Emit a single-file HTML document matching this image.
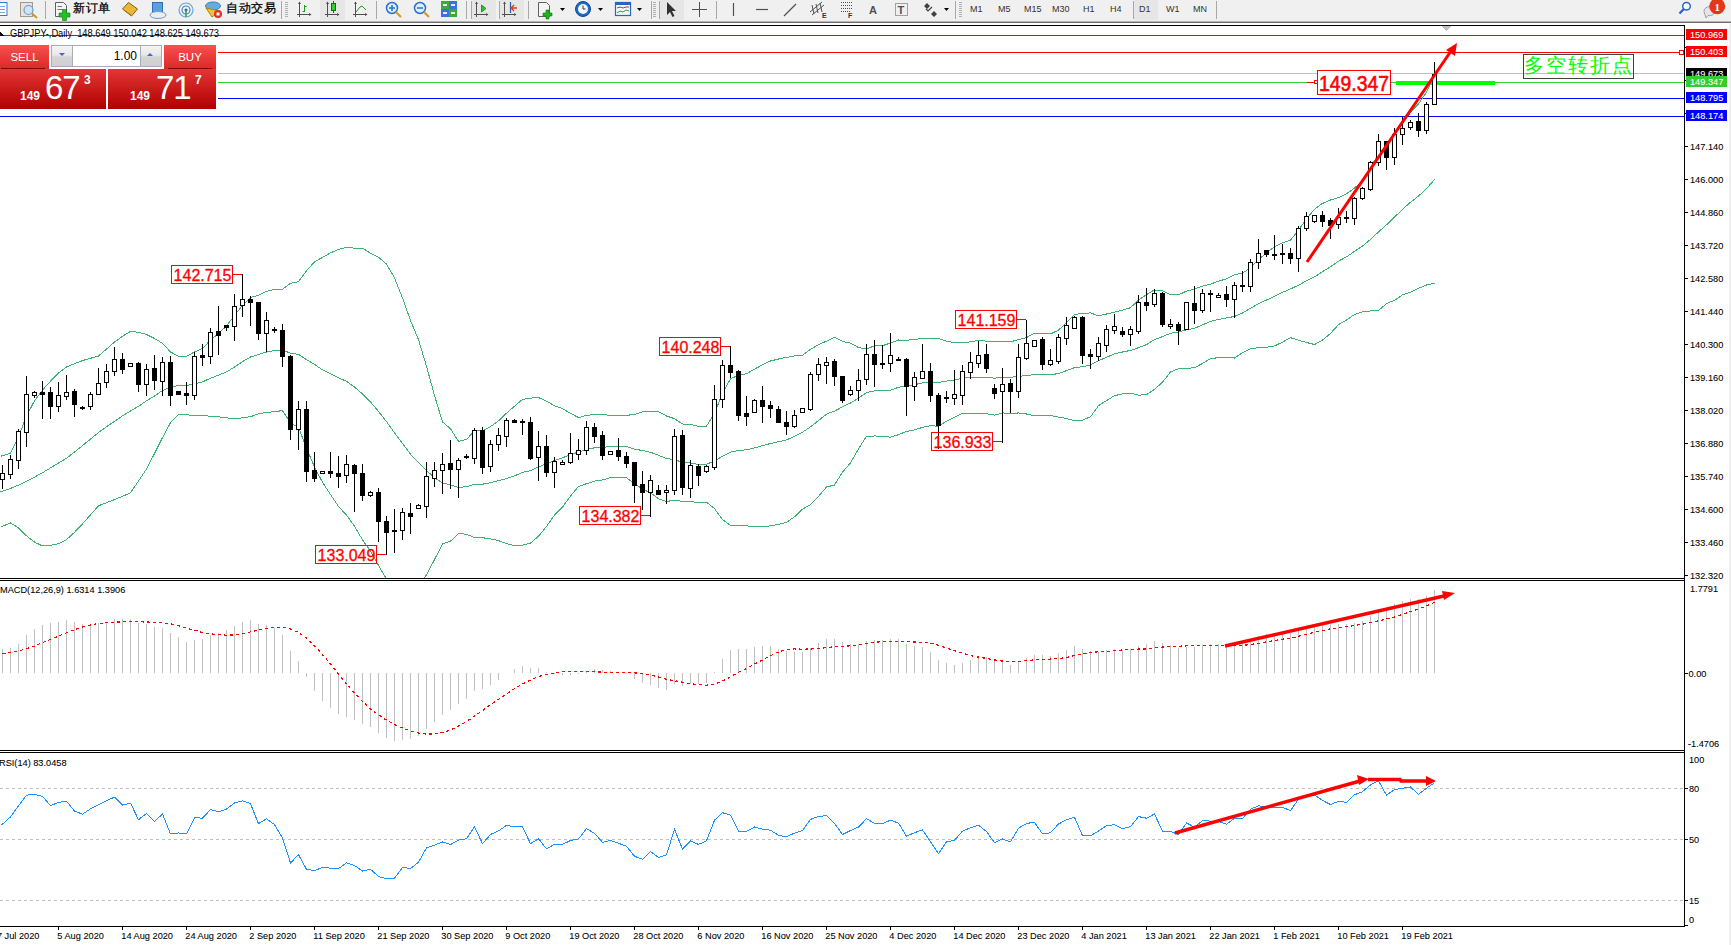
<!DOCTYPE html>
<html><head><meta charset="utf-8">
<style>
html,body{margin:0;padding:0;width:1731px;height:945px;overflow:hidden;background:#fff;font-family:"Liberation Sans",sans-serif;}
#tb{position:absolute;left:0;top:0;width:1731px;height:21px;background:#F0F0F0;}
#tbl{position:absolute;left:0;top:21px;width:1731px;height:1px;background:#B4B4B4;}
#tbl2{position:absolute;left:0;top:22px;width:1731px;height:1px;background:#6E6E6E;}
.sep{position:absolute;top:1px;width:1px;height:18px;background:#A8A8A8;}
.grip{position:absolute;top:2px;width:3px;height:16px;background:repeating-linear-gradient(#B0B0B0 0 1px,transparent 1px 2px);}
.tt{position:absolute;top:3px;font-size:9px;color:#333;line-height:12px;white-space:nowrap;}
.cn{position:absolute;top:1px;font-size:11.5px;color:#000;line-height:15px;white-space:nowrap;-webkit-text-stroke:0.25px #000;letter-spacing:0.6px;}
.pressed{position:absolute;top:0;height:20px;background:#E6E6E6;}
#rbar{position:absolute;left:1729px;top:23px;width:2px;height:922px;background:#F0F0F0;}
#panel{position:absolute;left:0;top:40px;width:218px;height:72px;background:#fff;}
.tab{position:absolute;top:45px;height:24px;background:linear-gradient(#F85050,#DC2828);color:#fff;font-size:11.5px;text-align:center;line-height:24px;}
.tabline{position:absolute;top:68px;height:1px;background:#8A0000;}
.big{position:absolute;top:69px;height:40px;background:linear-gradient(#E43636,#B00000);color:#fff;}
.vol{position:absolute;left:51px;top:45px;width:111px;height:22px;border:1px solid #A8ADB5;background:#fff;box-sizing:border-box;}
.vbtn{position:absolute;top:0;width:21px;height:20px;background:linear-gradient(#F4F4F4 0%,#E8E8E8 45%,#D4D4D4 55%,#D0D0D0 100%);box-sizing:border-box;}
</style></head><body>
<div id="tb">
<div class="pressed" style="left:320px;width:25px"></div>
<div class="pressed" style="left:472px;width:24px"></div>
<div class="pressed" style="left:500px;width:24px"></div>
<div class="pressed" style="left:660px;width:24px"></div>
<div class="pressed" style="left:1134px;width:24px"></div>
<svg width="1731" height="21" style="position:absolute;left:0;top:0">
 <!-- partial doc icon -->
 <rect x="-3" y="2.5" width="10" height="13" fill="#fff" stroke="#3A7BC8"/>
 <line x1="-1" y1="6.5" x2="5" y2="6.5" stroke="#7AA6DC"/><line x1="-1" y1="9.5" x2="5" y2="9.5" stroke="#7AA6DC"/><line x1="-1" y1="12.5" x2="5" y2="12.5" stroke="#7AA6DC"/>
 <!-- magnifier doc -->
 <rect x="20.5" y="2.5" width="12" height="14" fill="#E8E4DC" stroke="#A09888"/>
 <circle cx="28.5" cy="10" r="4.5" fill="#CFE3F5" stroke="#6A9BD0" stroke-width="1.2"/>
 <line x1="32" y1="13.5" x2="37" y2="18" stroke="#C89A20" stroke-width="2"/>
 <!-- new order -->
 <path d="M55.5 2.5 h8 l3 3 v11 h-11z" fill="#F4F4F4" stroke="#606060"/>
 <line x1="57.5" y1="6.5" x2="62" y2="6.5" stroke="#777"/><line x1="57.5" y1="9.5" x2="63" y2="9.5" stroke="#777"/>
 <path d="M62.5 9.5 h4 v3.5 h3.5 v4 h-3.5 v3.5 h-4 v-3.5 h-3.5 v-4 h3.5z" fill="#22C022" stroke="#0A7A0A" stroke-width=".6"/>
 <!-- yellow tag -->
 <path d="M122.5 9 l6 -6.5 l9 6.5 l-6 7z" fill="#E8B838" stroke="#8A5A10"/><path d="M124 10 l7 5" stroke="#B07818"/>
 <!-- blue doc cloud -->
 <rect x="152.5" y="2.5" width="10" height="11" fill="#5AA0E0" stroke="#2A70B8"/>
 <ellipse cx="158" cy="15" rx="8" ry="3.5" fill="#E6EEF6" stroke="#7A96B8"/>
 <!-- signal -->
 <circle cx="186" cy="10" r="7" fill="none" stroke="#6AA6D8" stroke-width="1.2"/>
 <circle cx="186" cy="10" r="4" fill="none" stroke="#4A86C8" stroke-width="1.2"/>
 <circle cx="186" cy="10" r="1.5" fill="#2A60B0"/>
 <path d="M186 10 v7" stroke="#2EA040" stroke-width="1.5"/>
 <!-- auto trade -->
 <ellipse cx="213" cy="6" rx="7.5" ry="4" fill="#62AEE0" stroke="#3A80B8"/>
 <path d="M206 8 l6 9 l8 -6z" fill="#F0C040" stroke="#B08010"/>
 <circle cx="218" cy="14" r="4" fill="#E03020"/><rect x="216.5" y="12.5" width="3" height="3" fill="#fff"/>
 <!-- chart types -->
<path d="M299.5 2 v15 M297 14.5 h14" stroke="#505050" fill="none"/><path d="M298 4 l1.5 -2.5 l1.5 2.5z M309 13 l2.5 1.5 l-2.5 1.5z" fill="#505050"/><path d="M327.5 2 v15 M325 14.5 h14" stroke="#505050" fill="none"/><path d="M326 4 l1.5 -2.5 l1.5 2.5z M337 13 l2.5 1.5 l-2.5 1.5z" fill="#505050"/><path d="M355.5 2 v15 M353 14.5 h14" stroke="#505050" fill="none"/><path d="M354 4 l1.5 -2.5 l1.5 2.5z M365 13 l2.5 1.5 l-2.5 1.5z" fill="#505050"/>
 <path d="M304.5 5 v7 M302.5 11.5 h2 M304.5 6.5 h2" stroke="#18A018" fill="none"/>
 <line x1="333.5" y1="1" x2="333.5" y2="13" stroke="#107010"/><rect x="331.5" y="3.5" width="4" height="7" fill="#30D030" stroke="#107010"/>
 <path d="M356 12 l4 -5 l2 -1 l2 2 l2 2" stroke="#18A018" fill="none"/>
 <!-- zoom -->
 <circle cx="392" cy="8" r="5.5" fill="#DDEEFF" stroke="#2870C8" stroke-width="1.5"/>
 <path d="M389 8 h6 M392 5 v6" stroke="#2870C8" stroke-width="1.5"/>
 <line x1="396" y1="12" x2="401" y2="17" stroke="#D0A020" stroke-width="2.2"/>
 <circle cx="420" cy="8" r="5.5" fill="#DDEEFF" stroke="#2870C8" stroke-width="1.5"/>
 <path d="M417 8 h6" stroke="#2870C8" stroke-width="1.5"/>
 <line x1="424" y1="12" x2="429" y2="17" stroke="#D0A020" stroke-width="2.2"/>
 <!-- tile -->
 <rect x="441.5" y="1.5" width="7" height="7" fill="#3EA83E" stroke="#3EA83E"/><rect x="443" y="4" width="4" height="2" fill="#fff" opacity=".85"/>
 <rect x="449.5" y="1.5" width="7" height="7" fill="#3A74D0" stroke="#3A74D0"/><rect x="451" y="4" width="4" height="2" fill="#fff" opacity=".85"/>
 <rect x="441.5" y="9.5" width="7" height="7" fill="#3A74D0" stroke="#3A74D0"/><rect x="443" y="12" width="4" height="2" fill="#fff" opacity=".85"/>
 <rect x="449.5" y="9.5" width="7" height="7" fill="#3EA83E" stroke="#3EA83E"/><rect x="451" y="12" width="4" height="2" fill="#fff" opacity=".85"/>
</svg>
<div class="sep" style="left:45px"></div>
<div class="cn" style="left:73px">新订单</div>
<div class="cn" style="left:226px">自动交易</div>
<div class="sep" style="left:281px"></div><div class="grip" style="left:285px"></div>

<div class="sep" style="left:376px"></div>
<div class="sep" style="left:466px"></div><div class="sep" style="left:471px"></div>

<div class="sep" style="left:499px"></div>

<div class="sep" style="left:528px"></div>
<div class="sep" style="left:651px"></div><div class="grip" style="left:653px"></div>
<div class="sep" style="left:659px"></div>

<div class="sep" style="left:716px"></div>
<div class="sep" style="left:955px"></div><div class="grip" style="left:959px"></div>
<div class="sep" style="left:1133px"></div>

<div class="sep" style="left:1216px"></div>
<svg width="1731" height="21" style="position:absolute;left:0;top:0">
 <g stroke="#505050" fill="none">

 </g>
<path d="M476.5 2 v15 M474 14.5 h14" stroke="#505050" fill="none"/><path d="M475 4 l1.5 -2.5 l1.5 2.5z M486 13 l2.5 1.5 l-2.5 1.5z" fill="#505050"/><path d="M504.5 2 v15 M502 14.5 h14" stroke="#505050" fill="none"/><path d="M503 4 l1.5 -2.5 l1.5 2.5z M514 13 l2.5 1.5 l-2.5 1.5z" fill="#505050"/> <path d="M481.5 5 l4.5 3.5 l-4.5 3.5z" fill="#30C030" stroke="#108010" stroke-width=".8"/>
 <line x1="510.5" y1="2" x2="510.5" y2="13" stroke="#2060C0" stroke-width="1.2"/>
 <path d="M517 8 l-5 0 M514 5 l-3 3 l3 3" stroke="#E04010" fill="none" stroke-width="1.4"/>
 <!-- indicators -->
 <path d="M538.5 2.5 h8 l3 3 v11 h-11z" fill="#F4F4F4" stroke="#606060"/>
 <path d="M546 10 h3 v3 h3 v3 h-3 v3 h-3 v-3 h-3 v-3 h3z" fill="#1EB41E" stroke="#0A7A0A" stroke-width=".6"/>
 <path d="M560 8 h5 l-2.5 3z" fill="#000"/>
 <circle cx="583" cy="9" r="7.5" fill="#1A6CC8" stroke="#0A4A98"/><circle cx="583" cy="9" r="5" fill="#F4F8FC"/>
 <path d="M583 5.5 v3.5 h2.5" stroke="#333" fill="none"/>
 <path d="M598 8 h5 l-2.5 3z" fill="#000"/>
 <rect x="615.5" y="2.5" width="15" height="13" fill="#F4F8FC" stroke="#2A66B8" stroke-width="1.2"/>
 <rect x="615.5" y="2.5" width="15" height="2.5" fill="#2A66B8"/>
 <path d="M617 8 l3 -1 l3 1 l3 -1 l3 0" stroke="#C03030" fill="none"/>
 <path d="M617 13 l3 -2 l3 1 l3 -2 l3 1" stroke="#30A030" fill="none"/>
 <path d="M637 8 h5 l-2.5 3z" fill="#000"/>
 <!-- cursor -->
 <path d="M667 2 v13 l3 -3 l2.5 5 l2 -1 l-2.5 -5 h4z" fill="#303030"/>
 <path d="M699.5 2 v15 M692 9.5 h15" stroke="#505050"/>
 <path d="M733.5 3 v13" stroke="#505050" stroke-width="1.2"/>
 <path d="M756 9.5 h12" stroke="#505050" stroke-width="1.2"/>
 <path d="M784 16 l12 -12" stroke="#505050" stroke-width="1.2"/>
 <path d="M810 12 l12 -10 M812 15 l12 -10 M812 5 l2 9 M816 4 l2 9 M820 3 l2 9" stroke="#505050" fill="none"/>
 <text x="822" y="18" font-size="7" font-weight="bold" fill="#333" font-family="Liberation Sans">E</text>
 <path d="M841 2.5 h12 M841 5.5 h12 M841 8.5 h12 M841 11.5 h9" stroke="#505050" stroke-dasharray="1 1"/>
 <text x="848" y="18" font-size="7" font-weight="bold" fill="#333" font-family="Liberation Sans">F</text>
 <text x="869" y="14" font-size="11" font-weight="bold" fill="#505050" font-family="Liberation Sans">A</text>
 <rect x="895.5" y="3.5" width="12" height="12" fill="none" stroke="#505050" stroke-dasharray="1 1"/>
 <text x="897.5" y="13.5" font-size="11" font-weight="bold" fill="#505050" font-family="Liberation Sans">T</text>
 <path d="M924 6 l3 -3 l3 3 l-3 3z M931 14 l3 -3 l3 3 l-3 3z" fill="#404040"/>
 <path d="M926 9 l2 2 l4 -4" stroke="#404040" fill="none" stroke-width="1.2"/>
 <path d="M944 8 h5 l-2.5 3z" fill="#000"/>
 <!-- right icons -->
 <circle cx="1686.5" cy="6.3" r="3.8" fill="#fff" stroke="#2A66D0" stroke-width="1.5"/>
 <line x1="1683.8" y1="9" x2="1679.5" y2="13.5" stroke="#2A5EC8" stroke-width="2.2"/>
 <path d="M1704 11.5 a5.5 4.5 0 1 1 4 4 l-2 2.5z" fill="#E4E4EE" stroke="#A0A0A0"/>
 <circle cx="1717.2" cy="6.3" r="8" fill="#E03818"/>
 <text x="1717.2" y="11" font-size="11" font-weight="bold" fill="#fff" text-anchor="middle" font-family="Liberation Serif">1</text>
</svg>
<div class="tt" style="left:970px">M1</div>
<div class="tt" style="left:998px">M5</div>
<div class="tt" style="left:1024px">M15</div>
<div class="tt" style="left:1052px">M30</div>
<div class="tt" style="left:1083px">H1</div>
<div class="tt" style="left:1110px">H4</div>
<div class="tt" style="left:1139px">D1</div>
<div class="tt" style="left:1166px">W1</div>
<div class="tt" style="left:1193px">MN</div>
</div>
<div id="tbl"></div><div id="tbl2"></div>
<svg width="1731" height="922" viewBox="0 23 1731 922" style="position:absolute;left:0;top:23px"><defs><clipPath id="mc"><rect x="0" y="26" width="1684" height="552"/></clipPath></defs><g shape-rendering="crispEdges"><rect x="0" y="35" width="1684" height="1" fill="#FF0000"/><rect x="217" y="52" width="1467" height="1" fill="#FF0000"/><rect x="217" y="73" width="1467" height="1" fill="#C0C0C0"/><rect x="217" y="82" width="1467" height="1" fill="#32CD32"/><rect x="217" y="98" width="1467" height="1" fill="#0000FF"/><rect x="0" y="116" width="1684" height="1" fill="#0000FF"/><rect x="1396" y="81" width="99" height="4" fill="#00FF00"/><path d="M0.5,456.3 L10.5,453.3 L18.5,436.8 L26.5,416.0 L34.5,400.8 L42.5,390.1 L50.5,381.2 L58.5,372.9 L66.5,367.0 L74.5,363.7 L82.5,360.6 L90.5,358.3 L98.5,356.0 L106.5,349.1 L114.5,342.1 L122.5,336.3 L130.5,331.3 L138.5,332.4 L146.5,334.5 L154.5,338.5 L162.5,343.3 L170.5,352.0 L178.5,356.2 L186.5,356.2 L194.5,352.0 L202.5,348.5 L210.5,340.1 L218.5,333.5 L226.5,326.0 L234.5,315.4 L242.5,305.4 L250.5,297.4 L258.5,295.3 L266.5,291.4 L274.5,289.3 L282.5,289.2 L290.5,283.4 L298.5,281.7 L306.5,270.8 L314.5,261.9 L322.5,257.4 L330.5,252.9 L338.5,249.3 L346.5,247.5 L354.5,248.1 L362.5,248.1 L370.5,253.2 L378.5,257.2 L386.5,264.1 L394.5,277.8 L402.5,297.8 L410.5,320.5 L418.5,339.6 L426.5,366.3 L434.5,395.5 L442.5,422.0 L450.5,428.7 L458.5,441.4 L466.5,439.3 L474.5,431.1 L482.5,430.7 L490.5,426.6 L498.5,420.8 L506.5,413.2 L514.5,406.2 L522.5,399.5 L530.5,398.1 L538.5,397.6 L546.5,401.2 L554.5,405.7 L562.5,408.6 L570.5,413.3 L578.5,417.6 L586.5,415.4 L594.5,414.5 L602.5,414.7 L610.5,415.3 L618.5,415.4 L626.5,415.2 L634.5,414.7 L642.5,411.8 L650.5,411.7 L658.5,411.7 L666.5,416.0 L674.5,418.7 L682.5,424.0 L690.5,424.4 L698.5,426.3 L706.5,426.1 L714.5,413.5 L722.5,392.9 L730.5,378.8 L738.5,375.2 L746.5,373.8 L754.5,369.2 L762.5,364.7 L770.5,361.0 L778.5,359.0 L786.5,357.4 L794.5,356.0 L802.5,355.3 L810.5,349.3 L818.5,344.6 L826.5,341.1 L834.5,337.1 L842.5,341.4 L850.5,343.1 L858.5,347.6 L866.5,349.1 L874.5,345.8 L882.5,345.7 L890.5,343.0 L898.5,340.0 L906.5,340.3 L914.5,339.5 L922.5,338.4 L930.5,338.9 L938.5,338.5 L946.5,341.1 L954.5,342.6 L962.5,343.0 L970.5,341.7 L978.5,340.4 L986.5,341.1 L994.5,341.3 L1002.5,341.8 L1010.5,341.8 L1018.5,339.7 L1026.5,337.5 L1034.5,333.3 L1042.5,333.3 L1050.5,334.0 L1058.5,330.1 L1066.5,322.7 L1074.5,314.5 L1082.5,313.4 L1090.5,312.9 L1098.5,315.9 L1106.5,314.0 L1114.5,312.1 L1122.5,310.2 L1130.5,307.7 L1138.5,300.2 L1146.5,294.6 L1154.5,289.9 L1162.5,290.9 L1170.5,294.7 L1178.5,294.9 L1186.5,291.1 L1194.5,289.0 L1202.5,286.1 L1210.5,284.2 L1218.5,281.1 L1226.5,278.9 L1234.5,274.7 L1242.5,273.2 L1250.5,267.8 L1258.5,259.8 L1266.5,252.7 L1274.5,246.9 L1282.5,242.8 L1290.5,240.0 L1298.5,230.2 L1306.5,219.0 L1314.5,209.2 L1322.5,203.4 L1330.5,200.0 L1338.5,197.7 L1346.5,193.8 L1354.5,188.2 L1362.5,180.4 L1370.5,168.1 L1378.5,153.2 L1386.5,145.9 L1394.5,134.1 L1402.5,123.7 L1410.5,112.3 L1418.5,104.0 L1426.5,92.2 L1434.5,75.9" fill="none" stroke="#3CB371" stroke-width="1" clip-path="url(#mc)"/><path d="M0.5,491.8 L10.5,488.4 L18.5,485.1 L26.5,481.1 L34.5,477.1 L42.5,472.7 L50.5,467.9 L58.5,463.0 L66.5,458.2 L74.5,452.1 L82.5,445.6 L90.5,439.1 L98.5,432.6 L106.5,426.7 L114.5,421.3 L122.5,415.9 L130.5,411.1 L138.5,406.3 L146.5,400.8 L154.5,396.0 L162.5,390.5 L170.5,387.3 L178.5,385.4 L186.5,385.5 L194.5,383.7 L202.5,381.9 L210.5,378.2 L218.5,375.2 L226.5,371.9 L234.5,367.1 L242.5,361.6 L250.5,357.0 L258.5,354.5 L266.5,352.0 L274.5,350.5 L282.5,349.9 L290.5,353.2 L298.5,354.4 L306.5,359.6 L314.5,364.4 L322.5,369.9 L330.5,373.8 L338.5,377.9 L346.5,381.3 L354.5,387.1 L362.5,394.0 L370.5,402.0 L378.5,411.4 L386.5,421.6 L394.5,432.8 L402.5,443.5 L410.5,454.2 L418.5,462.7 L426.5,470.6 L434.5,477.6 L442.5,482.9 L450.5,484.9 L458.5,487.5 L466.5,486.7 L474.5,484.4 L482.5,484.2 L490.5,482.7 L498.5,480.7 L506.5,478.5 L514.5,475.9 L522.5,472.3 L530.5,470.6 L538.5,466.9 L546.5,463.8 L554.5,460.4 L562.5,457.8 L570.5,454.7 L578.5,452.0 L586.5,449.5 L594.5,447.8 L602.5,447.4 L610.5,446.4 L618.5,446.2 L626.5,446.5 L634.5,449.2 L642.5,450.5 L650.5,452.3 L658.5,455.2 L666.5,458.7 L674.5,459.4 L682.5,462.6 L690.5,463.0 L698.5,464.4 L706.5,464.2 L714.5,461.1 L722.5,456.2 L730.5,452.1 L738.5,450.4 L746.5,449.8 L754.5,448.0 L762.5,445.6 L770.5,443.5 L778.5,441.7 L786.5,439.9 L794.5,436.4 L802.5,432.2 L810.5,426.9 L818.5,420.5 L826.5,414.1 L834.5,411.1 L842.5,406.8 L850.5,403.0 L858.5,398.2 L866.5,392.6 L874.5,390.9 L882.5,390.9 L890.5,390.1 L898.5,387.3 L906.5,385.8 L914.5,384.7 L922.5,382.9 L930.5,382.3 L938.5,382.4 L946.5,381.1 L954.5,380.0 L962.5,378.2 L970.5,377.6 L978.5,377.1 L986.5,377.4 L994.5,378.2 L1002.5,377.4 L1010.5,377.4 L1018.5,376.3 L1026.5,375.7 L1034.5,374.5 L1042.5,374.5 L1050.5,374.7 L1058.5,373.6 L1066.5,370.6 L1074.5,367.6 L1082.5,366.8 L1090.5,364.8 L1098.5,360.8 L1106.5,357.3 L1114.5,353.9 L1122.5,352.0 L1130.5,350.4 L1138.5,347.7 L1146.5,344.6 L1154.5,339.6 L1162.5,336.6 L1170.5,333.3 L1178.5,331.9 L1186.5,329.8 L1194.5,328.3 L1202.5,324.8 L1210.5,321.5 L1218.5,319.4 L1226.5,318.0 L1234.5,316.4 L1242.5,313.0 L1250.5,308.3 L1258.5,303.8 L1266.5,300.0 L1274.5,296.4 L1282.5,292.4 L1290.5,288.9 L1298.5,285.2 L1306.5,280.8 L1314.5,276.9 L1322.5,271.7 L1330.5,266.8 L1338.5,261.1 L1346.5,256.9 L1354.5,251.4 L1362.5,246.1 L1370.5,239.5 L1378.5,231.9 L1386.5,224.8 L1394.5,217.2 L1402.5,209.3 L1410.5,202.3 L1418.5,196.1 L1426.5,188.6 L1434.5,179.5" fill="none" stroke="#3CB371" stroke-width="1" clip-path="url(#mc)"/><path d="M0.5,527.1 L10.5,523.0 L18.5,527.8 L26.5,535.8 L34.5,542.1 L42.5,546.0 L50.5,545.2 L58.5,543.8 L66.5,539.6 L74.5,532.3 L82.5,523.9 L90.5,514.8 L98.5,505.8 L106.5,502.7 L114.5,499.6 L122.5,496.3 L130.5,492.8 L138.5,481.1 L146.5,468.9 L154.5,453.6 L162.5,437.6 L170.5,422.6 L178.5,414.6 L186.5,414.8 L194.5,415.4 L202.5,415.3 L210.5,416.3 L218.5,416.8 L226.5,417.8 L234.5,418.7 L242.5,417.8 L250.5,416.7 L258.5,413.8 L266.5,412.5 L274.5,411.7 L282.5,410.6 L290.5,423.0 L298.5,427.2 L306.5,448.4 L314.5,467.0 L322.5,482.3 L330.5,494.6 L338.5,506.4 L346.5,515.1 L354.5,526.2 L362.5,539.9 L370.5,550.9 L378.5,565.5 L386.5,579.1 L394.5,587.9 L402.5,589.2 L410.5,587.8 L418.5,585.9 L426.5,574.9 L434.5,559.6 L442.5,543.9 L450.5,541.2 L458.5,533.5 L466.5,534.2 L474.5,537.7 L482.5,537.7 L490.5,538.9 L498.5,540.6 L506.5,543.7 L514.5,545.6 L522.5,545.1 L530.5,543.1 L538.5,536.2 L546.5,526.5 L554.5,515.0 L562.5,507.1 L570.5,496.1 L578.5,486.4 L586.5,483.7 L594.5,481.1 L602.5,480.0 L610.5,477.5 L618.5,477.1 L626.5,477.8 L634.5,483.7 L642.5,489.1 L650.5,492.8 L658.5,498.7 L666.5,501.5 L674.5,500.2 L682.5,501.3 L690.5,501.6 L698.5,502.6 L706.5,502.2 L714.5,508.6 L722.5,519.6 L730.5,525.5 L738.5,525.5 L746.5,525.8 L754.5,526.9 L762.5,526.4 L770.5,525.9 L778.5,524.4 L786.5,522.3 L794.5,516.8 L802.5,509.1 L810.5,504.6 L818.5,496.3 L826.5,487.0 L834.5,485.0 L842.5,472.1 L850.5,462.8 L858.5,448.8 L866.5,436.2 L874.5,436.0 L882.5,436.1 L890.5,437.2 L898.5,434.7 L906.5,431.4 L914.5,429.9 L922.5,427.4 L930.5,425.6 L938.5,426.3 L946.5,421.1 L954.5,417.4 L962.5,413.3 L970.5,413.4 L978.5,413.8 L986.5,413.7 L994.5,415.1 L1002.5,413.0 L1010.5,413.1 L1018.5,413.0 L1026.5,414.0 L1034.5,415.7 L1042.5,415.7 L1050.5,415.5 L1058.5,417.1 L1066.5,418.5 L1074.5,420.7 L1082.5,420.1 L1090.5,416.8 L1098.5,405.6 L1106.5,400.6 L1114.5,395.7 L1122.5,393.9 L1130.5,393.1 L1138.5,395.2 L1146.5,394.6 L1154.5,389.3 L1162.5,382.3 L1170.5,371.8 L1178.5,368.8 L1186.5,368.5 L1194.5,367.7 L1202.5,363.5 L1210.5,358.7 L1218.5,357.6 L1226.5,357.2 L1234.5,358.1 L1242.5,352.7 L1250.5,348.8 L1258.5,347.7 L1266.5,347.3 L1274.5,346.0 L1282.5,342.1 L1290.5,337.7 L1298.5,340.2 L1306.5,342.5 L1314.5,344.5 L1322.5,340.0 L1330.5,333.5 L1338.5,324.6 L1346.5,320.0 L1354.5,314.5 L1362.5,311.9 L1370.5,310.9 L1378.5,310.5 L1386.5,303.6 L1394.5,300.3 L1402.5,294.9 L1410.5,292.3 L1418.5,288.3 L1426.5,285.0 L1434.5,283.2" fill="none" stroke="#3CB371" stroke-width="1" clip-path="url(#mc)"/><rect x="2" y="465" width="1" height="24" fill="#000"/><rect x="0" y="473" width="5" height="7" fill="#000"/><rect x="1" y="474" width="3" height="5" fill="#FFF"/><rect x="10" y="455" width="1" height="24" fill="#000"/><rect x="8" y="459" width="5" height="16" fill="#000"/><rect x="9" y="460" width="3" height="14" fill="#FFF"/><rect x="18" y="429" width="1" height="40" fill="#000"/><rect x="16" y="431" width="5" height="30" fill="#000"/><rect x="17" y="432" width="3" height="28" fill="#FFF"/><rect x="26" y="376" width="1" height="71" fill="#000"/><rect x="24" y="394" width="5" height="39" fill="#000"/><rect x="25" y="395" width="3" height="37" fill="#FFF"/><rect x="34" y="391" width="1" height="7" fill="#000"/><rect x="32" y="392" width="5" height="4" fill="#000"/><rect x="33" y="393" width="3" height="2" fill="#FFF"/><rect x="42" y="381" width="1" height="38" fill="#000"/><rect x="40" y="392" width="5" height="3" fill="#000"/><rect x="50" y="387" width="1" height="32" fill="#000"/><rect x="48" y="392" width="5" height="15" fill="#000"/><rect x="58" y="382" width="1" height="30" fill="#000"/><rect x="56" y="395" width="5" height="12" fill="#000"/><rect x="57" y="396" width="3" height="10" fill="#FFF"/><rect x="66" y="375" width="1" height="25" fill="#000"/><rect x="64" y="392" width="5" height="5" fill="#000"/><rect x="65" y="393" width="3" height="3" fill="#FFF"/><rect x="74" y="389" width="1" height="28" fill="#000"/><rect x="72" y="391" width="5" height="14" fill="#000"/><rect x="82" y="406" width="1" height="4" fill="#000"/><rect x="80" y="407" width="5" height="2" fill="#000"/><rect x="90" y="392" width="1" height="18" fill="#000"/><rect x="88" y="394" width="5" height="13" fill="#000"/><rect x="89" y="395" width="3" height="11" fill="#FFF"/><rect x="98" y="368" width="1" height="27" fill="#000"/><rect x="96" y="383" width="5" height="12" fill="#000"/><rect x="97" y="384" width="3" height="10" fill="#FFF"/><rect x="106" y="364" width="1" height="24" fill="#000"/><rect x="104" y="371" width="5" height="12" fill="#000"/><rect x="105" y="372" width="3" height="10" fill="#FFF"/><rect x="114" y="347" width="1" height="29" fill="#000"/><rect x="112" y="359" width="5" height="13" fill="#000"/><rect x="113" y="360" width="3" height="11" fill="#FFF"/><rect x="122" y="353" width="1" height="21" fill="#000"/><rect x="120" y="359" width="5" height="11" fill="#000"/><rect x="130" y="363" width="1" height="4" fill="#000"/><rect x="128" y="363" width="5" height="4" fill="#000"/><rect x="129" y="364" width="3" height="2" fill="#FFF"/><rect x="138" y="362" width="1" height="30" fill="#000"/><rect x="136" y="363" width="5" height="22" fill="#000"/><rect x="146" y="364" width="1" height="32" fill="#000"/><rect x="144" y="369" width="5" height="16" fill="#000"/><rect x="145" y="370" width="3" height="14" fill="#FFF"/><rect x="154" y="355" width="1" height="35" fill="#000"/><rect x="152" y="368" width="5" height="13" fill="#000"/><rect x="162" y="357" width="1" height="39" fill="#000"/><rect x="160" y="362" width="5" height="20" fill="#000"/><rect x="161" y="363" width="3" height="18" fill="#FFF"/><rect x="170" y="356" width="1" height="50" fill="#000"/><rect x="168" y="362" width="5" height="34" fill="#000"/><rect x="178" y="391" width="1" height="4" fill="#000"/><rect x="176" y="391" width="5" height="4" fill="#000"/><rect x="186" y="382" width="1" height="23" fill="#000"/><rect x="184" y="393" width="5" height="3" fill="#000"/><rect x="194" y="352" width="1" height="48" fill="#000"/><rect x="192" y="356" width="5" height="40" fill="#000"/><rect x="193" y="357" width="3" height="38" fill="#FFF"/><rect x="202" y="344" width="1" height="22" fill="#000"/><rect x="200" y="355" width="5" height="3" fill="#000"/><rect x="210" y="328" width="1" height="36" fill="#000"/><rect x="208" y="332" width="5" height="25" fill="#000"/><rect x="209" y="333" width="3" height="23" fill="#FFF"/><rect x="218" y="306" width="1" height="49" fill="#000"/><rect x="216" y="331" width="5" height="5" fill="#000"/><rect x="226" y="325" width="1" height="6" fill="#000"/><rect x="224" y="325" width="5" height="3" fill="#000"/><rect x="234" y="294" width="1" height="47" fill="#000"/><rect x="232" y="306" width="5" height="21" fill="#000"/><rect x="233" y="307" width="3" height="19" fill="#FFF"/><rect x="242" y="274" width="1" height="43" fill="#000"/><rect x="240" y="299" width="5" height="7" fill="#000"/><rect x="241" y="300" width="3" height="5" fill="#FFF"/><rect x="250" y="296" width="1" height="30" fill="#000"/><rect x="248" y="299" width="5" height="4" fill="#000"/><rect x="258" y="302" width="1" height="38" fill="#000"/><rect x="256" y="302" width="5" height="32" fill="#000"/><rect x="266" y="312" width="1" height="40" fill="#000"/><rect x="264" y="320" width="5" height="14" fill="#000"/><rect x="265" y="321" width="3" height="12" fill="#FFF"/><rect x="274" y="327" width="1" height="6" fill="#000"/><rect x="272" y="329" width="5" height="2" fill="#000"/><rect x="282" y="324" width="1" height="43" fill="#000"/><rect x="280" y="330" width="5" height="27" fill="#000"/><rect x="290" y="355" width="1" height="85" fill="#000"/><rect x="288" y="356" width="5" height="74" fill="#000"/><rect x="298" y="401" width="1" height="49" fill="#000"/><rect x="296" y="409" width="5" height="21" fill="#000"/><rect x="297" y="410" width="3" height="19" fill="#FFF"/><rect x="306" y="401" width="1" height="81" fill="#000"/><rect x="304" y="409" width="5" height="63" fill="#000"/><rect x="314" y="452" width="1" height="30" fill="#000"/><rect x="312" y="470" width="5" height="9" fill="#000"/><rect x="322" y="471" width="1" height="3" fill="#000"/><rect x="320" y="471" width="5" height="3" fill="#000"/><rect x="321" y="472" width="3" height="1" fill="#FFF"/><rect x="330" y="452" width="1" height="26" fill="#000"/><rect x="328" y="471" width="5" height="3" fill="#000"/><rect x="338" y="456" width="1" height="32" fill="#000"/><rect x="336" y="473" width="5" height="4" fill="#000"/><rect x="346" y="455" width="1" height="28" fill="#000"/><rect x="344" y="464" width="5" height="12" fill="#000"/><rect x="345" y="465" width="3" height="10" fill="#FFF"/><rect x="354" y="464" width="1" height="48" fill="#000"/><rect x="352" y="465" width="5" height="9" fill="#000"/><rect x="362" y="464" width="1" height="37" fill="#000"/><rect x="360" y="473" width="5" height="23" fill="#000"/><rect x="370" y="491" width="1" height="6" fill="#000"/><rect x="368" y="492" width="5" height="4" fill="#000"/><rect x="369" y="493" width="3" height="2" fill="#FFF"/><rect x="378" y="488" width="1" height="54" fill="#000"/><rect x="376" y="492" width="5" height="30" fill="#000"/><rect x="386" y="516" width="1" height="39" fill="#000"/><rect x="384" y="521" width="5" height="12" fill="#000"/><rect x="394" y="509" width="1" height="44" fill="#000"/><rect x="392" y="530" width="5" height="2" fill="#000"/><rect x="402" y="508" width="1" height="32" fill="#000"/><rect x="400" y="512" width="5" height="19" fill="#000"/><rect x="401" y="513" width="3" height="17" fill="#FFF"/><rect x="410" y="503" width="1" height="31" fill="#000"/><rect x="408" y="513" width="5" height="4" fill="#000"/><rect x="418" y="504" width="1" height="5" fill="#000"/><rect x="416" y="505" width="5" height="4" fill="#000"/><rect x="417" y="506" width="3" height="2" fill="#FFF"/><rect x="426" y="462" width="1" height="56" fill="#000"/><rect x="424" y="476" width="5" height="31" fill="#000"/><rect x="425" y="477" width="3" height="29" fill="#FFF"/><rect x="434" y="462" width="1" height="25" fill="#000"/><rect x="432" y="470" width="5" height="9" fill="#000"/><rect x="433" y="471" width="3" height="7" fill="#FFF"/><rect x="442" y="453" width="1" height="41" fill="#000"/><rect x="440" y="464" width="5" height="7" fill="#000"/><rect x="441" y="465" width="3" height="5" fill="#FFF"/><rect x="450" y="440" width="1" height="49" fill="#000"/><rect x="448" y="463" width="5" height="7" fill="#000"/><rect x="458" y="458" width="1" height="40" fill="#000"/><rect x="456" y="460" width="5" height="10" fill="#000"/><rect x="457" y="461" width="3" height="8" fill="#FFF"/><rect x="466" y="454" width="1" height="5" fill="#000"/><rect x="464" y="456" width="5" height="2" fill="#000"/><rect x="474" y="428" width="1" height="36" fill="#000"/><rect x="472" y="430" width="5" height="29" fill="#000"/><rect x="473" y="431" width="3" height="27" fill="#FFF"/><rect x="482" y="427" width="1" height="47" fill="#000"/><rect x="480" y="430" width="5" height="38" fill="#000"/><rect x="490" y="440" width="1" height="32" fill="#000"/><rect x="488" y="444" width="5" height="23" fill="#000"/><rect x="489" y="445" width="3" height="21" fill="#FFF"/><rect x="498" y="428" width="1" height="23" fill="#000"/><rect x="496" y="435" width="5" height="10" fill="#000"/><rect x="497" y="436" width="3" height="8" fill="#FFF"/><rect x="506" y="418" width="1" height="29" fill="#000"/><rect x="504" y="420" width="5" height="17" fill="#000"/><rect x="505" y="421" width="3" height="15" fill="#FFF"/><rect x="514" y="419" width="1" height="4" fill="#000"/><rect x="512" y="420" width="5" height="3" fill="#000"/><rect x="522" y="419" width="1" height="16" fill="#000"/><rect x="520" y="421" width="5" height="2" fill="#000"/><rect x="530" y="417" width="1" height="43" fill="#000"/><rect x="528" y="422" width="5" height="37" fill="#000"/><rect x="538" y="431" width="1" height="50" fill="#000"/><rect x="536" y="446" width="5" height="12" fill="#000"/><rect x="537" y="447" width="3" height="10" fill="#FFF"/><rect x="546" y="435" width="1" height="42" fill="#000"/><rect x="544" y="446" width="5" height="27" fill="#000"/><rect x="554" y="457" width="1" height="31" fill="#000"/><rect x="552" y="461" width="5" height="12" fill="#000"/><rect x="553" y="462" width="3" height="10" fill="#FFF"/><rect x="562" y="460" width="1" height="5" fill="#000"/><rect x="560" y="462" width="5" height="3" fill="#000"/><rect x="561" y="463" width="3" height="1" fill="#FFF"/><rect x="570" y="433" width="1" height="31" fill="#000"/><rect x="568" y="453" width="5" height="10" fill="#000"/><rect x="569" y="454" width="3" height="8" fill="#FFF"/><rect x="578" y="439" width="1" height="21" fill="#000"/><rect x="576" y="450" width="5" height="5" fill="#000"/><rect x="577" y="451" width="3" height="3" fill="#FFF"/><rect x="586" y="421" width="1" height="34" fill="#000"/><rect x="584" y="427" width="5" height="24" fill="#000"/><rect x="585" y="428" width="3" height="22" fill="#FFF"/><rect x="594" y="423" width="1" height="20" fill="#000"/><rect x="592" y="427" width="5" height="10" fill="#000"/><rect x="602" y="431" width="1" height="29" fill="#000"/><rect x="600" y="435" width="5" height="21" fill="#000"/><rect x="610" y="451" width="1" height="4" fill="#000"/><rect x="608" y="451" width="5" height="4" fill="#000"/><rect x="609" y="452" width="3" height="2" fill="#FFF"/><rect x="618" y="438" width="1" height="23" fill="#000"/><rect x="616" y="450" width="5" height="7" fill="#000"/><rect x="626" y="452" width="1" height="16" fill="#000"/><rect x="624" y="456" width="5" height="8" fill="#000"/><rect x="634" y="462" width="1" height="41" fill="#000"/><rect x="632" y="462" width="5" height="24" fill="#000"/><rect x="642" y="471" width="1" height="39" fill="#000"/><rect x="640" y="484" width="5" height="9" fill="#000"/><rect x="650" y="475" width="1" height="42" fill="#000"/><rect x="648" y="480" width="5" height="13" fill="#000"/><rect x="649" y="481" width="3" height="11" fill="#FFF"/><rect x="658" y="485" width="1" height="10" fill="#000"/><rect x="656" y="490" width="5" height="5" fill="#000"/><rect x="666" y="485" width="1" height="19" fill="#000"/><rect x="664" y="490" width="5" height="3" fill="#000"/><rect x="665" y="491" width="3" height="1" fill="#FFF"/><rect x="674" y="429" width="1" height="66" fill="#000"/><rect x="672" y="436" width="5" height="55" fill="#000"/><rect x="673" y="437" width="3" height="53" fill="#FFF"/><rect x="682" y="430" width="1" height="65" fill="#000"/><rect x="680" y="435" width="5" height="53" fill="#000"/><rect x="690" y="460" width="1" height="38" fill="#000"/><rect x="688" y="465" width="5" height="24" fill="#000"/><rect x="689" y="466" width="3" height="22" fill="#FFF"/><rect x="698" y="464" width="1" height="22" fill="#000"/><rect x="696" y="466" width="5" height="10" fill="#000"/><rect x="706" y="465" width="1" height="8" fill="#000"/><rect x="704" y="466" width="5" height="6" fill="#000"/><rect x="705" y="467" width="3" height="4" fill="#FFF"/><rect x="714" y="385" width="1" height="85" fill="#000"/><rect x="712" y="399" width="5" height="69" fill="#000"/><rect x="713" y="400" width="3" height="67" fill="#FFF"/><rect x="722" y="360" width="1" height="48" fill="#000"/><rect x="720" y="365" width="5" height="35" fill="#000"/><rect x="721" y="366" width="3" height="33" fill="#FFF"/><rect x="730" y="346" width="1" height="32" fill="#000"/><rect x="728" y="365" width="5" height="8" fill="#000"/><rect x="738" y="370" width="1" height="51" fill="#000"/><rect x="736" y="371" width="5" height="45" fill="#000"/><rect x="746" y="396" width="1" height="30" fill="#000"/><rect x="744" y="413" width="5" height="4" fill="#000"/><rect x="754" y="399" width="1" height="14" fill="#000"/><rect x="752" y="400" width="5" height="13" fill="#000"/><rect x="753" y="401" width="3" height="11" fill="#FFF"/><rect x="762" y="386" width="1" height="37" fill="#000"/><rect x="760" y="400" width="5" height="7" fill="#000"/><rect x="770" y="401" width="1" height="17" fill="#000"/><rect x="768" y="405" width="5" height="4" fill="#000"/><rect x="778" y="406" width="1" height="17" fill="#000"/><rect x="776" y="409" width="5" height="14" fill="#000"/><rect x="786" y="411" width="1" height="24" fill="#000"/><rect x="784" y="422" width="5" height="5" fill="#000"/><rect x="794" y="410" width="1" height="18" fill="#000"/><rect x="792" y="415" width="5" height="12" fill="#000"/><rect x="793" y="416" width="3" height="10" fill="#FFF"/><rect x="802" y="408" width="1" height="5" fill="#000"/><rect x="800" y="408" width="5" height="5" fill="#000"/><rect x="801" y="409" width="3" height="3" fill="#FFF"/><rect x="810" y="372" width="1" height="39" fill="#000"/><rect x="808" y="374" width="5" height="36" fill="#000"/><rect x="809" y="375" width="3" height="34" fill="#FFF"/><rect x="818" y="358" width="1" height="23" fill="#000"/><rect x="816" y="364" width="5" height="11" fill="#000"/><rect x="817" y="365" width="3" height="9" fill="#FFF"/><rect x="826" y="357" width="1" height="27" fill="#000"/><rect x="824" y="362" width="5" height="4" fill="#000"/><rect x="825" y="363" width="3" height="2" fill="#FFF"/><rect x="834" y="359" width="1" height="27" fill="#000"/><rect x="832" y="361" width="5" height="16" fill="#000"/><rect x="842" y="376" width="1" height="27" fill="#000"/><rect x="840" y="376" width="5" height="25" fill="#000"/><rect x="850" y="386" width="1" height="10" fill="#000"/><rect x="848" y="390" width="5" height="5" fill="#000"/><rect x="849" y="391" width="3" height="3" fill="#FFF"/><rect x="858" y="369" width="1" height="32" fill="#000"/><rect x="856" y="380" width="5" height="11" fill="#000"/><rect x="857" y="381" width="3" height="9" fill="#FFF"/><rect x="866" y="344" width="1" height="41" fill="#000"/><rect x="864" y="354" width="5" height="26" fill="#000"/><rect x="865" y="355" width="3" height="24" fill="#FFF"/><rect x="874" y="340" width="1" height="47" fill="#000"/><rect x="872" y="354" width="5" height="11" fill="#000"/><rect x="882" y="345" width="1" height="24" fill="#000"/><rect x="880" y="363" width="5" height="2" fill="#000"/><rect x="890" y="333" width="1" height="39" fill="#000"/><rect x="888" y="355" width="5" height="9" fill="#000"/><rect x="889" y="356" width="3" height="7" fill="#FFF"/><rect x="898" y="357" width="1" height="4" fill="#000"/><rect x="896" y="359" width="5" height="2" fill="#000"/><rect x="906" y="358" width="1" height="58" fill="#000"/><rect x="904" y="359" width="5" height="28" fill="#000"/><rect x="914" y="372" width="1" height="29" fill="#000"/><rect x="912" y="377" width="5" height="10" fill="#000"/><rect x="913" y="378" width="3" height="8" fill="#FFF"/><rect x="922" y="344" width="1" height="35" fill="#000"/><rect x="920" y="371" width="5" height="8" fill="#000"/><rect x="921" y="372" width="3" height="6" fill="#FFF"/><rect x="930" y="363" width="1" height="39" fill="#000"/><rect x="928" y="371" width="5" height="25" fill="#000"/><rect x="938" y="393" width="1" height="56" fill="#000"/><rect x="936" y="395" width="5" height="31" fill="#000"/><rect x="946" y="391" width="1" height="12" fill="#000"/><rect x="944" y="397" width="5" height="2" fill="#000"/><rect x="954" y="370" width="1" height="35" fill="#000"/><rect x="952" y="394" width="5" height="5" fill="#000"/><rect x="953" y="395" width="3" height="3" fill="#FFF"/><rect x="962" y="365" width="1" height="40" fill="#000"/><rect x="960" y="371" width="5" height="25" fill="#000"/><rect x="961" y="372" width="3" height="23" fill="#FFF"/><rect x="970" y="352" width="1" height="27" fill="#000"/><rect x="968" y="362" width="5" height="11" fill="#000"/><rect x="969" y="363" width="3" height="9" fill="#FFF"/><rect x="978" y="341" width="1" height="27" fill="#000"/><rect x="976" y="355" width="5" height="9" fill="#000"/><rect x="977" y="356" width="3" height="7" fill="#FFF"/><rect x="986" y="344" width="1" height="29" fill="#000"/><rect x="984" y="354" width="5" height="15" fill="#000"/><rect x="994" y="384" width="1" height="15" fill="#000"/><rect x="992" y="388" width="5" height="6" fill="#000"/><rect x="1002" y="368" width="1" height="75" fill="#000"/><rect x="1000" y="384" width="5" height="8" fill="#000"/><rect x="1001" y="385" width="3" height="6" fill="#FFF"/><rect x="1010" y="379" width="1" height="34" fill="#000"/><rect x="1008" y="383" width="5" height="9" fill="#000"/><rect x="1018" y="344" width="1" height="54" fill="#000"/><rect x="1016" y="357" width="5" height="35" fill="#000"/><rect x="1017" y="358" width="3" height="33" fill="#FFF"/><rect x="1026" y="320" width="1" height="40" fill="#000"/><rect x="1024" y="343" width="5" height="16" fill="#000"/><rect x="1025" y="344" width="3" height="14" fill="#FFF"/><rect x="1034" y="340" width="1" height="7" fill="#000"/><rect x="1032" y="340" width="5" height="7" fill="#000"/><rect x="1033" y="341" width="3" height="5" fill="#FFF"/><rect x="1042" y="337" width="1" height="33" fill="#000"/><rect x="1040" y="339" width="5" height="26" fill="#000"/><rect x="1050" y="349" width="1" height="17" fill="#000"/><rect x="1048" y="360" width="5" height="5" fill="#000"/><rect x="1049" y="361" width="3" height="3" fill="#FFF"/><rect x="1058" y="334" width="1" height="30" fill="#000"/><rect x="1056" y="337" width="5" height="25" fill="#000"/><rect x="1057" y="338" width="3" height="23" fill="#FFF"/><rect x="1066" y="317" width="1" height="28" fill="#000"/><rect x="1064" y="325" width="5" height="14" fill="#000"/><rect x="1065" y="326" width="3" height="12" fill="#FFF"/><rect x="1074" y="316" width="1" height="13" fill="#000"/><rect x="1072" y="317" width="5" height="12" fill="#000"/><rect x="1073" y="318" width="3" height="10" fill="#FFF"/><rect x="1082" y="316" width="1" height="48" fill="#000"/><rect x="1080" y="317" width="5" height="39" fill="#000"/><rect x="1090" y="349" width="1" height="20" fill="#000"/><rect x="1088" y="354" width="5" height="3" fill="#000"/><rect x="1098" y="337" width="1" height="24" fill="#000"/><rect x="1096" y="343" width="5" height="14" fill="#000"/><rect x="1097" y="344" width="3" height="12" fill="#FFF"/><rect x="1106" y="325" width="1" height="27" fill="#000"/><rect x="1104" y="329" width="5" height="17" fill="#000"/><rect x="1105" y="330" width="3" height="15" fill="#FFF"/><rect x="1114" y="314" width="1" height="20" fill="#000"/><rect x="1112" y="326" width="5" height="5" fill="#000"/><rect x="1113" y="327" width="3" height="3" fill="#FFF"/><rect x="1122" y="327" width="1" height="10" fill="#000"/><rect x="1120" y="331" width="5" height="4" fill="#000"/><rect x="1130" y="326" width="1" height="20" fill="#000"/><rect x="1128" y="329" width="5" height="6" fill="#000"/><rect x="1129" y="330" width="3" height="4" fill="#FFF"/><rect x="1138" y="295" width="1" height="39" fill="#000"/><rect x="1136" y="302" width="5" height="30" fill="#000"/><rect x="1137" y="303" width="3" height="28" fill="#FFF"/><rect x="1146" y="288" width="1" height="23" fill="#000"/><rect x="1144" y="302" width="5" height="4" fill="#000"/><rect x="1154" y="289" width="1" height="18" fill="#000"/><rect x="1152" y="293" width="5" height="12" fill="#000"/><rect x="1153" y="294" width="3" height="10" fill="#FFF"/><rect x="1162" y="292" width="1" height="35" fill="#000"/><rect x="1160" y="293" width="5" height="32" fill="#000"/><rect x="1170" y="319" width="1" height="10" fill="#000"/><rect x="1168" y="324" width="5" height="3" fill="#000"/><rect x="1169" y="325" width="3" height="1" fill="#FFF"/><rect x="1178" y="322" width="1" height="23" fill="#000"/><rect x="1176" y="324" width="5" height="7" fill="#000"/><rect x="1186" y="302" width="1" height="28" fill="#000"/><rect x="1184" y="302" width="5" height="28" fill="#000"/><rect x="1185" y="303" width="3" height="26" fill="#FFF"/><rect x="1194" y="286" width="1" height="38" fill="#000"/><rect x="1192" y="303" width="5" height="8" fill="#000"/><rect x="1202" y="289" width="1" height="24" fill="#000"/><rect x="1200" y="293" width="5" height="18" fill="#000"/><rect x="1201" y="294" width="3" height="16" fill="#FFF"/><rect x="1210" y="290" width="1" height="22" fill="#000"/><rect x="1208" y="293" width="5" height="2" fill="#000"/><rect x="1218" y="293" width="1" height="5" fill="#000"/><rect x="1216" y="295" width="5" height="3" fill="#000"/><rect x="1217" y="296" width="3" height="1" fill="#FFF"/><rect x="1226" y="286" width="1" height="21" fill="#000"/><rect x="1224" y="294" width="5" height="6" fill="#000"/><rect x="1234" y="282" width="1" height="36" fill="#000"/><rect x="1232" y="285" width="5" height="15" fill="#000"/><rect x="1233" y="286" width="3" height="13" fill="#FFF"/><rect x="1242" y="271" width="1" height="21" fill="#000"/><rect x="1240" y="285" width="5" height="2" fill="#000"/><rect x="1250" y="259" width="1" height="33" fill="#000"/><rect x="1248" y="262" width="5" height="25" fill="#000"/><rect x="1249" y="263" width="3" height="23" fill="#FFF"/><rect x="1258" y="239" width="1" height="30" fill="#000"/><rect x="1256" y="253" width="5" height="10" fill="#000"/><rect x="1257" y="254" width="3" height="8" fill="#FFF"/><rect x="1266" y="250" width="1" height="7" fill="#000"/><rect x="1264" y="250" width="5" height="5" fill="#000"/><rect x="1274" y="235" width="1" height="25" fill="#000"/><rect x="1272" y="254" width="5" height="2" fill="#000"/><rect x="1282" y="244" width="1" height="20" fill="#000"/><rect x="1280" y="253" width="5" height="2" fill="#000"/><rect x="1290" y="248" width="1" height="16" fill="#000"/><rect x="1288" y="253" width="5" height="6" fill="#000"/><rect x="1298" y="226" width="1" height="46" fill="#000"/><rect x="1296" y="228" width="5" height="31" fill="#000"/><rect x="1297" y="229" width="3" height="29" fill="#FFF"/><rect x="1306" y="212" width="1" height="19" fill="#000"/><rect x="1304" y="216" width="5" height="13" fill="#000"/><rect x="1305" y="217" width="3" height="11" fill="#FFF"/><rect x="1314" y="215" width="1" height="8" fill="#000"/><rect x="1312" y="215" width="5" height="7" fill="#000"/><rect x="1313" y="216" width="3" height="5" fill="#FFF"/><rect x="1322" y="211" width="1" height="16" fill="#000"/><rect x="1320" y="215" width="5" height="7" fill="#000"/><rect x="1330" y="218" width="1" height="21" fill="#000"/><rect x="1328" y="220" width="5" height="6" fill="#000"/><rect x="1338" y="208" width="1" height="21" fill="#000"/><rect x="1336" y="217" width="5" height="8" fill="#000"/><rect x="1337" y="218" width="3" height="6" fill="#FFF"/><rect x="1346" y="211" width="1" height="12" fill="#000"/><rect x="1344" y="217" width="5" height="2" fill="#000"/><rect x="1354" y="197" width="1" height="28" fill="#000"/><rect x="1352" y="198" width="5" height="21" fill="#000"/><rect x="1353" y="199" width="3" height="19" fill="#FFF"/><rect x="1362" y="187" width="1" height="13" fill="#000"/><rect x="1360" y="188" width="5" height="11" fill="#000"/><rect x="1361" y="189" width="3" height="9" fill="#FFF"/><rect x="1370" y="161" width="1" height="30" fill="#000"/><rect x="1368" y="162" width="5" height="28" fill="#000"/><rect x="1369" y="163" width="3" height="26" fill="#FFF"/><rect x="1378" y="134" width="1" height="32" fill="#000"/><rect x="1376" y="141" width="5" height="22" fill="#000"/><rect x="1377" y="142" width="3" height="20" fill="#FFF"/><rect x="1386" y="141" width="1" height="29" fill="#000"/><rect x="1384" y="141" width="5" height="17" fill="#000"/><rect x="1394" y="128" width="1" height="37" fill="#000"/><rect x="1392" y="134" width="5" height="24" fill="#000"/><rect x="1393" y="135" width="3" height="22" fill="#FFF"/><rect x="1402" y="117" width="1" height="28" fill="#000"/><rect x="1400" y="128" width="5" height="7" fill="#000"/><rect x="1401" y="129" width="3" height="5" fill="#FFF"/><rect x="1410" y="120" width="1" height="10" fill="#000"/><rect x="1408" y="122" width="5" height="6" fill="#000"/><rect x="1409" y="123" width="3" height="4" fill="#FFF"/><rect x="1418" y="113" width="1" height="24" fill="#000"/><rect x="1416" y="121" width="5" height="10" fill="#000"/><rect x="1426" y="102" width="1" height="32" fill="#000"/><rect x="1424" y="104" width="5" height="27" fill="#000"/><rect x="1425" y="105" width="3" height="25" fill="#FFF"/><rect x="1434" y="62" width="1" height="43" fill="#000"/><rect x="1432" y="74" width="5" height="31" fill="#000"/><rect x="1433" y="75" width="3" height="29" fill="#FFF"/><rect x="0" y="25" width="1685" height="1" fill="#000"/><rect x="1684" y="25" width="1" height="902" fill="#000"/><rect x="0" y="578" width="1685" height="1" fill="#000"/><rect x="0" y="580" width="1685" height="1" fill="#000"/><rect x="0" y="750" width="1685" height="1" fill="#000"/><rect x="0" y="752" width="1685" height="1" fill="#000"/><rect x="0" y="926" width="1685" height="1" fill="#000"/><rect x="2" y="649" width="1" height="24" fill="#C0C0C0"/><rect x="10" y="648" width="1" height="25" fill="#C0C0C0"/><rect x="18" y="644" width="1" height="29" fill="#C0C0C0"/><rect x="26" y="635" width="1" height="38" fill="#C0C0C0"/><rect x="34" y="629" width="1" height="44" fill="#C0C0C0"/><rect x="42" y="625" width="1" height="48" fill="#C0C0C0"/><rect x="50" y="623" width="1" height="50" fill="#C0C0C0"/><rect x="58" y="622" width="1" height="51" fill="#C0C0C0"/><rect x="66" y="620" width="1" height="53" fill="#C0C0C0"/><rect x="74" y="622" width="1" height="51" fill="#C0C0C0"/><rect x="82" y="624" width="1" height="49" fill="#C0C0C0"/><rect x="90" y="624" width="1" height="49" fill="#C0C0C0"/><rect x="98" y="623" width="1" height="50" fill="#C0C0C0"/><rect x="106" y="622" width="1" height="51" fill="#C0C0C0"/><rect x="114" y="619" width="1" height="54" fill="#C0C0C0"/><rect x="122" y="619" width="1" height="54" fill="#C0C0C0"/><rect x="130" y="619" width="1" height="54" fill="#C0C0C0"/><rect x="138" y="623" width="1" height="50" fill="#C0C0C0"/><rect x="146" y="624" width="1" height="49" fill="#C0C0C0"/><rect x="154" y="627" width="1" height="46" fill="#C0C0C0"/><rect x="162" y="628" width="1" height="45" fill="#C0C0C0"/><rect x="170" y="633" width="1" height="40" fill="#C0C0C0"/><rect x="178" y="637" width="1" height="36" fill="#C0C0C0"/><rect x="186" y="642" width="1" height="31" fill="#C0C0C0"/><rect x="194" y="640" width="1" height="33" fill="#C0C0C0"/><rect x="202" y="639" width="1" height="34" fill="#C0C0C0"/><rect x="210" y="635" width="1" height="38" fill="#C0C0C0"/><rect x="218" y="633" width="1" height="40" fill="#C0C0C0"/><rect x="226" y="630" width="1" height="43" fill="#C0C0C0"/><rect x="234" y="626" width="1" height="47" fill="#C0C0C0"/><rect x="242" y="622" width="1" height="51" fill="#C0C0C0"/><rect x="250" y="620" width="1" height="53" fill="#C0C0C0"/><rect x="258" y="624" width="1" height="49" fill="#C0C0C0"/><rect x="266" y="625" width="1" height="48" fill="#C0C0C0"/><rect x="274" y="628" width="1" height="45" fill="#C0C0C0"/><rect x="282" y="635" width="1" height="38" fill="#C0C0C0"/><rect x="290" y="651" width="1" height="22" fill="#C0C0C0"/><rect x="298" y="661" width="1" height="12" fill="#C0C0C0"/><rect x="306" y="673" width="1" height="4" fill="#C0C0C0"/><rect x="314" y="673" width="1" height="18" fill="#C0C0C0"/><rect x="322" y="673" width="1" height="28" fill="#C0C0C0"/><rect x="330" y="673" width="1" height="35" fill="#C0C0C0"/><rect x="338" y="673" width="1" height="41" fill="#C0C0C0"/><rect x="346" y="673" width="1" height="44" fill="#C0C0C0"/><rect x="354" y="673" width="1" height="47" fill="#C0C0C0"/><rect x="362" y="673" width="1" height="51" fill="#C0C0C0"/><rect x="370" y="673" width="1" height="54" fill="#C0C0C0"/><rect x="378" y="673" width="1" height="60" fill="#C0C0C0"/><rect x="386" y="673" width="1" height="65" fill="#C0C0C0"/><rect x="394" y="673" width="1" height="68" fill="#C0C0C0"/><rect x="402" y="673" width="1" height="67" fill="#C0C0C0"/><rect x="410" y="673" width="1" height="66" fill="#C0C0C0"/><rect x="418" y="673" width="1" height="63" fill="#C0C0C0"/><rect x="426" y="673" width="1" height="56" fill="#C0C0C0"/><rect x="434" y="673" width="1" height="49" fill="#C0C0C0"/><rect x="442" y="673" width="1" height="42" fill="#C0C0C0"/><rect x="450" y="673" width="1" height="37" fill="#C0C0C0"/><rect x="458" y="673" width="1" height="31" fill="#C0C0C0"/><rect x="466" y="673" width="1" height="26" fill="#C0C0C0"/><rect x="474" y="673" width="1" height="18" fill="#C0C0C0"/><rect x="482" y="673" width="1" height="16" fill="#C0C0C0"/><rect x="490" y="673" width="1" height="12" fill="#C0C0C0"/><rect x="498" y="673" width="1" height="7" fill="#C0C0C0"/><rect x="514" y="669" width="1" height="4" fill="#C0C0C0"/><rect x="522" y="666" width="1" height="7" fill="#C0C0C0"/><rect x="530" y="668" width="1" height="5" fill="#C0C0C0"/><rect x="538" y="668" width="1" height="5" fill="#C0C0C0"/><rect x="546" y="672" width="1" height="1" fill="#C0C0C0"/><rect x="554" y="673" width="1" height="1" fill="#C0C0C0"/><rect x="562" y="673" width="1" height="2" fill="#C0C0C0"/><rect x="570" y="673" width="1" height="2" fill="#C0C0C0"/><rect x="578" y="673" width="1" height="1" fill="#C0C0C0"/><rect x="586" y="671" width="1" height="2" fill="#C0C0C0"/><rect x="594" y="669" width="1" height="4" fill="#C0C0C0"/><rect x="602" y="670" width="1" height="3" fill="#C0C0C0"/><rect x="610" y="671" width="1" height="2" fill="#C0C0C0"/><rect x="618" y="672" width="1" height="1" fill="#C0C0C0"/><rect x="626" y="673" width="1" height="1" fill="#C0C0C0"/><rect x="634" y="673" width="1" height="6" fill="#C0C0C0"/><rect x="642" y="673" width="1" height="10" fill="#C0C0C0"/><rect x="650" y="673" width="1" height="12" fill="#C0C0C0"/><rect x="658" y="673" width="1" height="15" fill="#C0C0C0"/><rect x="666" y="673" width="1" height="17" fill="#C0C0C0"/><rect x="674" y="673" width="1" height="11" fill="#C0C0C0"/><rect x="682" y="673" width="1" height="13" fill="#C0C0C0"/><rect x="690" y="673" width="1" height="11" fill="#C0C0C0"/><rect x="698" y="673" width="1" height="11" fill="#C0C0C0"/><rect x="706" y="673" width="1" height="10" fill="#C0C0C0"/><rect x="714" y="672" width="1" height="1" fill="#C0C0C0"/><rect x="722" y="659" width="1" height="14" fill="#C0C0C0"/><rect x="730" y="650" width="1" height="23" fill="#C0C0C0"/><rect x="738" y="649" width="1" height="24" fill="#C0C0C0"/><rect x="746" y="649" width="1" height="24" fill="#C0C0C0"/><rect x="754" y="647" width="1" height="26" fill="#C0C0C0"/><rect x="762" y="646" width="1" height="27" fill="#C0C0C0"/><rect x="770" y="646" width="1" height="27" fill="#C0C0C0"/><rect x="778" y="649" width="1" height="24" fill="#C0C0C0"/><rect x="786" y="651" width="1" height="22" fill="#C0C0C0"/><rect x="794" y="652" width="1" height="21" fill="#C0C0C0"/><rect x="802" y="652" width="1" height="21" fill="#C0C0C0"/><rect x="810" y="648" width="1" height="25" fill="#C0C0C0"/><rect x="818" y="643" width="1" height="30" fill="#C0C0C0"/><rect x="826" y="639" width="1" height="34" fill="#C0C0C0"/><rect x="834" y="639" width="1" height="34" fill="#C0C0C0"/><rect x="842" y="642" width="1" height="31" fill="#C0C0C0"/><rect x="850" y="644" width="1" height="29" fill="#C0C0C0"/><rect x="858" y="644" width="1" height="29" fill="#C0C0C0"/><rect x="866" y="641" width="1" height="32" fill="#C0C0C0"/><rect x="874" y="640" width="1" height="33" fill="#C0C0C0"/><rect x="882" y="640" width="1" height="33" fill="#C0C0C0"/><rect x="890" y="639" width="1" height="34" fill="#C0C0C0"/><rect x="898" y="639" width="1" height="34" fill="#C0C0C0"/><rect x="906" y="644" width="1" height="29" fill="#C0C0C0"/><rect x="914" y="646" width="1" height="27" fill="#C0C0C0"/><rect x="922" y="647" width="1" height="26" fill="#C0C0C0"/><rect x="930" y="652" width="1" height="21" fill="#C0C0C0"/><rect x="938" y="660" width="1" height="13" fill="#C0C0C0"/><rect x="946" y="663" width="1" height="10" fill="#C0C0C0"/><rect x="954" y="665" width="1" height="8" fill="#C0C0C0"/><rect x="962" y="663" width="1" height="10" fill="#C0C0C0"/><rect x="970" y="660" width="1" height="13" fill="#C0C0C0"/><rect x="978" y="658" width="1" height="15" fill="#C0C0C0"/><rect x="986" y="657" width="1" height="16" fill="#C0C0C0"/><rect x="994" y="661" width="1" height="12" fill="#C0C0C0"/><rect x="1002" y="662" width="1" height="11" fill="#C0C0C0"/><rect x="1010" y="665" width="1" height="8" fill="#C0C0C0"/><rect x="1018" y="662" width="1" height="11" fill="#C0C0C0"/><rect x="1026" y="658" width="1" height="15" fill="#C0C0C0"/><rect x="1034" y="655" width="1" height="18" fill="#C0C0C0"/><rect x="1042" y="655" width="1" height="18" fill="#C0C0C0"/><rect x="1050" y="656" width="1" height="17" fill="#C0C0C0"/><rect x="1058" y="653" width="1" height="20" fill="#C0C0C0"/><rect x="1066" y="650" width="1" height="23" fill="#C0C0C0"/><rect x="1074" y="646" width="1" height="27" fill="#C0C0C0"/><rect x="1082" y="649" width="1" height="24" fill="#C0C0C0"/><rect x="1090" y="651" width="1" height="22" fill="#C0C0C0"/><rect x="1098" y="652" width="1" height="21" fill="#C0C0C0"/><rect x="1106" y="650" width="1" height="23" fill="#C0C0C0"/><rect x="1114" y="649" width="1" height="24" fill="#C0C0C0"/><rect x="1122" y="650" width="1" height="23" fill="#C0C0C0"/><rect x="1130" y="649" width="1" height="24" fill="#C0C0C0"/><rect x="1138" y="646" width="1" height="27" fill="#C0C0C0"/><rect x="1146" y="644" width="1" height="29" fill="#C0C0C0"/><rect x="1154" y="641" width="1" height="32" fill="#C0C0C0"/><rect x="1162" y="643" width="1" height="30" fill="#C0C0C0"/><rect x="1170" y="645" width="1" height="28" fill="#C0C0C0"/><rect x="1178" y="648" width="1" height="25" fill="#C0C0C0"/><rect x="1186" y="647" width="1" height="26" fill="#C0C0C0"/><rect x="1194" y="647" width="1" height="26" fill="#C0C0C0"/><rect x="1202" y="645" width="1" height="28" fill="#C0C0C0"/><rect x="1210" y="644" width="1" height="29" fill="#C0C0C0"/><rect x="1218" y="644" width="1" height="29" fill="#C0C0C0"/><rect x="1226" y="645" width="1" height="28" fill="#C0C0C0"/><rect x="1234" y="644" width="1" height="29" fill="#C0C0C0"/><rect x="1242" y="643" width="1" height="30" fill="#C0C0C0"/><rect x="1250" y="640" width="1" height="33" fill="#C0C0C0"/><rect x="1258" y="636" width="1" height="37" fill="#C0C0C0"/><rect x="1266" y="634" width="1" height="39" fill="#C0C0C0"/><rect x="1274" y="633" width="1" height="40" fill="#C0C0C0"/><rect x="1282" y="633" width="1" height="40" fill="#C0C0C0"/><rect x="1290" y="633" width="1" height="40" fill="#C0C0C0"/><rect x="1298" y="630" width="1" height="43" fill="#C0C0C0"/><rect x="1306" y="626" width="1" height="47" fill="#C0C0C0"/><rect x="1314" y="624" width="1" height="49" fill="#C0C0C0"/><rect x="1322" y="623" width="1" height="50" fill="#C0C0C0"/><rect x="1330" y="624" width="1" height="49" fill="#C0C0C0"/><rect x="1338" y="624" width="1" height="49" fill="#C0C0C0"/><rect x="1346" y="624" width="1" height="49" fill="#C0C0C0"/><rect x="1354" y="623" width="1" height="50" fill="#C0C0C0"/><rect x="1362" y="621" width="1" height="52" fill="#C0C0C0"/><rect x="1370" y="616" width="1" height="57" fill="#C0C0C0"/><rect x="1378" y="610" width="1" height="63" fill="#C0C0C0"/><rect x="1386" y="608" width="1" height="65" fill="#C0C0C0"/><rect x="1394" y="604" width="1" height="69" fill="#C0C0C0"/><rect x="1402" y="601" width="1" height="72" fill="#C0C0C0"/><rect x="1410" y="599" width="1" height="74" fill="#C0C0C0"/><rect x="1418" y="599" width="1" height="74" fill="#C0C0C0"/><rect x="1426" y="596" width="1" height="77" fill="#C0C0C0"/><rect x="1434" y="590" width="1" height="83" fill="#C0C0C0"/><line x1="0" y1="788.5" x2="1684" y2="788.5" stroke="#C0C0C0" stroke-width="1" stroke-dasharray="3 3"/><line x1="0" y1="839.5" x2="1684" y2="839.5" stroke="#C0C0C0" stroke-width="1" stroke-dasharray="3 3"/><line x1="0" y1="900.5" x2="1684" y2="900.5" stroke="#C0C0C0" stroke-width="1" stroke-dasharray="3 3"/><rect x="1685" y="146" width="3" height="1" fill="#000"/><rect x="1685" y="179" width="3" height="1" fill="#000"/><rect x="1685" y="212" width="3" height="1" fill="#000"/><rect x="1685" y="245" width="3" height="1" fill="#000"/><rect x="1685" y="278" width="3" height="1" fill="#000"/><rect x="1685" y="311" width="3" height="1" fill="#000"/><rect x="1685" y="344" width="3" height="1" fill="#000"/><rect x="1685" y="377" width="3" height="1" fill="#000"/><rect x="1685" y="410" width="3" height="1" fill="#000"/><rect x="1685" y="443" width="3" height="1" fill="#000"/><rect x="1685" y="476" width="3" height="1" fill="#000"/><rect x="1685" y="509" width="3" height="1" fill="#000"/><rect x="1685" y="542" width="3" height="1" fill="#000"/><rect x="1685" y="575" width="3" height="1" fill="#000"/><rect x="1685" y="47" width="3" height="1" fill="#000"/><rect x="1685" y="80" width="3" height="1" fill="#000"/><rect x="1685" y="113" width="3" height="1" fill="#000"/><rect x="1685" y="673" width="3" height="1" fill="#000"/><rect x="1685" y="788" width="3" height="1" fill="#000"/><rect x="1685" y="839" width="3" height="1" fill="#000"/><rect x="1685" y="900" width="3" height="1" fill="#000"/><rect x="1685" y="925" width="3" height="1" fill="#000"/><rect x="58" y="926" width="1" height="4" fill="#000"/><rect x="122" y="926" width="1" height="4" fill="#000"/><rect x="186" y="926" width="1" height="4" fill="#000"/><rect x="250" y="926" width="1" height="4" fill="#000"/><rect x="314" y="926" width="1" height="4" fill="#000"/><rect x="378" y="926" width="1" height="4" fill="#000"/><rect x="442" y="926" width="1" height="4" fill="#000"/><rect x="506" y="926" width="1" height="4" fill="#000"/><rect x="570" y="926" width="1" height="4" fill="#000"/><rect x="634" y="926" width="1" height="4" fill="#000"/><rect x="698" y="926" width="1" height="4" fill="#000"/><rect x="762" y="926" width="1" height="4" fill="#000"/><rect x="826" y="926" width="1" height="4" fill="#000"/><rect x="890" y="926" width="1" height="4" fill="#000"/><rect x="954" y="926" width="1" height="4" fill="#000"/><rect x="1018" y="926" width="1" height="4" fill="#000"/><rect x="1082" y="926" width="1" height="4" fill="#000"/><rect x="1146" y="926" width="1" height="4" fill="#000"/><rect x="1210" y="926" width="1" height="4" fill="#000"/><rect x="1274" y="926" width="1" height="4" fill="#000"/><rect x="1338" y="926" width="1" height="4" fill="#000"/><rect x="1402" y="926" width="1" height="4" fill="#000"/><rect x="233" y="274" width="9" height="1" fill="#FF0000"/><rect x="171.5" y="265.5" width="61" height="18" fill="none" stroke="#FF0000" stroke-width="1"/><rect x="377" y="554" width="9" height="1" fill="#FF0000"/><rect x="315.5" y="545.5" width="61" height="18" fill="none" stroke="#FF0000" stroke-width="1"/><rect x="641" y="515" width="9" height="1" fill="#FF0000"/><rect x="579.5" y="506.5" width="61" height="18" fill="none" stroke="#FF0000" stroke-width="1"/><rect x="721" y="346" width="9" height="1" fill="#FF0000"/><rect x="659.5" y="337.5" width="61" height="18" fill="none" stroke="#FF0000" stroke-width="1"/><rect x="1017" y="319" width="9" height="1" fill="#FF0000"/><rect x="955.5" y="310.5" width="61" height="18" fill="none" stroke="#FF0000" stroke-width="1"/><rect x="993" y="441" width="9" height="1" fill="#FF0000"/><rect x="931.5" y="432.5" width="61" height="18" fill="none" stroke="#FF0000" stroke-width="1"/><rect x="1307" y="82" width="10" height="1" fill="#FF0000"/><rect x="1314.5" y="80.5" width="3" height="3" fill="#FFF" stroke="#FF0000"/><rect x="1317.5" y="70.5" width="73" height="24" fill="#FFF" stroke="#FF0000" stroke-width="1"/><rect x="1679.5" y="50.5" width="4" height="4" fill="#FFF" stroke="#FF0000"/><rect x="1523.5" y="54.5" width="110" height="24" fill="none" stroke="#404040" stroke-width="1"/><polygon points="1441.5,26 1451.5,26 1446.5,31" fill="#C0C0C0"/><polygon points="0,31 0,36 4,36" fill="#000"/></g><g><path d="M2.5,653.5 L10.5,652.4 L18.5,651.0 L26.5,648.7 L34.5,645.9 L42.5,642.6 L50.5,639.4 L58.5,636.1 L66.5,632.8 L74.5,629.7 L82.5,627.0 L90.5,624.9 L98.5,623.5 L106.5,622.8 L114.5,622.2 L122.5,621.8 L130.5,621.5 L138.5,621.8 L146.5,622.0 L154.5,622.4 L162.5,622.8 L170.5,623.8 L178.5,625.6 L186.5,628.1 L194.5,630.3 L202.5,632.5 L210.5,633.8 L218.5,634.8 L226.5,635.2 L234.5,635.0 L242.5,633.8 L250.5,631.9 L258.5,629.9 L266.5,628.3 L274.5,627.1 L282.5,627.1 L290.5,629.1 L298.5,632.4 L306.5,638.1 L314.5,645.7 L322.5,654.7 L330.5,664.1 L338.5,674.0 L346.5,683.8 L354.5,693.2 L362.5,701.4 L370.5,708.8 L378.5,714.9 L386.5,720.1 L394.5,724.6 L402.5,728.1 L410.5,730.9 L418.5,733.0 L426.5,734.1 L434.5,733.8 L442.5,732.5 L450.5,730.0 L458.5,726.2 L466.5,721.5 L474.5,716.1 L482.5,710.5 L490.5,704.8 L498.5,699.3 L506.5,693.9 L514.5,688.8 L522.5,683.9 L530.5,679.9 L538.5,676.5 L546.5,674.5 L554.5,672.8 L562.5,671.8 L570.5,671.2 L578.5,671.3 L586.5,671.5 L594.5,671.9 L602.5,672.1 L610.5,672.4 L618.5,672.4 L626.5,672.4 L634.5,672.8 L642.5,673.8 L650.5,674.9 L658.5,676.9 L666.5,679.2 L674.5,680.7 L682.5,682.3 L690.5,683.6 L698.5,684.7 L706.5,685.2 L714.5,684.0 L722.5,681.1 L730.5,676.8 L738.5,672.3 L746.5,668.4 L754.5,664.1 L762.5,659.9 L770.5,655.7 L778.5,651.9 L786.5,649.6 L794.5,648.9 L802.5,649.2 L810.5,649.0 L818.5,648.4 L826.5,647.6 L834.5,646.8 L842.5,646.3 L850.5,645.8 L858.5,645.0 L866.5,643.7 L874.5,642.4 L882.5,641.5 L890.5,641.1 L898.5,641.1 L906.5,641.6 L914.5,642.0 L922.5,642.3 L930.5,643.2 L938.5,645.3 L946.5,647.9 L954.5,650.6 L962.5,653.2 L970.5,655.6 L978.5,657.1 L986.5,658.4 L994.5,659.9 L1002.5,661.1 L1010.5,661.6 L1018.5,661.5 L1026.5,660.7 L1034.5,659.8 L1042.5,659.3 L1050.5,659.1 L1058.5,658.6 L1066.5,657.4 L1074.5,655.5 L1082.5,653.8 L1090.5,652.5 L1098.5,651.8 L1106.5,651.4 L1114.5,650.7 L1122.5,650.0 L1130.5,649.6 L1138.5,649.1 L1146.5,648.9 L1154.5,648.0 L1162.5,647.1 L1170.5,646.4 L1178.5,646.2 L1186.5,645.9 L1194.5,645.7 L1202.5,645.2 L1210.5,645.1 L1218.5,645.1 L1226.5,645.6 L1234.5,645.6 L1242.5,645.4 L1250.5,644.5 L1258.5,643.3 L1266.5,641.9 L1274.5,640.5 L1282.5,639.2 L1290.5,638.0 L1298.5,636.3 L1306.5,634.4 L1314.5,632.2 L1322.5,630.3 L1330.5,628.9 L1338.5,627.7 L1346.5,626.7 L1354.5,625.6 L1362.5,624.2 L1370.5,622.7 L1378.5,620.8 L1386.5,619.1 L1394.5,617.0 L1402.5,614.5 L1410.5,611.7 L1418.5,608.8 L1426.5,605.8 L1434.5,602.4" fill="none" stroke="#FF0000" stroke-width="1.2" stroke-dasharray="3 3" shape-rendering="crispEdges"/><path d="M0.5,824.3 L2.5,824.1 L10.5,816.9 L18.5,805.7 L26.5,795.1 L34.5,794.5 L42.5,796.3 L50.5,805.7 L58.5,802.4 L66.5,801.2 L74.5,811.1 L82.5,814.2 L90.5,808.8 L98.5,804.8 L106.5,800.8 L114.5,797.1 L122.5,805.1 L130.5,803.2 L138.5,819.7 L146.5,813.5 L154.5,821.3 L162.5,814.1 L170.5,833.8 L178.5,832.9 L186.5,834.0 L194.5,817.8 L202.5,818.1 L210.5,809.6 L218.5,811.7 L226.5,809.1 L234.5,803.0 L242.5,800.8 L250.5,803.7 L258.5,823.7 L266.5,818.8 L274.5,824.6 L282.5,838.0 L290.5,863.0 L298.5,854.6 L306.5,869.3 L314.5,870.6 L322.5,867.4 L330.5,868.1 L338.5,868.6 L346.5,862.8 L354.5,865.5 L362.5,871.0 L370.5,869.3 L378.5,876.5 L386.5,878.7 L394.5,878.2 L402.5,867.4 L410.5,868.5 L418.5,862.3 L426.5,847.8 L434.5,845.1 L442.5,842.0 L450.5,844.6 L458.5,840.1 L466.5,838.7 L474.5,826.7 L482.5,843.7 L490.5,834.5 L498.5,830.9 L506.5,825.4 L514.5,826.9 L522.5,826.9 L530.5,843.7 L538.5,838.7 L546.5,848.9 L554.5,844.2 L562.5,844.4 L570.5,840.5 L578.5,838.9 L586.5,828.7 L594.5,833.2 L602.5,842.4 L610.5,840.4 L618.5,843.2 L626.5,846.3 L634.5,856.2 L642.5,859.3 L650.5,851.5 L658.5,857.6 L666.5,854.9 L674.5,829.1 L682.5,849.2 L690.5,841.0 L698.5,844.4 L706.5,840.9 L714.5,820.2 L722.5,812.7 L730.5,815.2 L738.5,831.0 L746.5,831.4 L754.5,827.0 L762.5,829.1 L770.5,830.2 L778.5,835.3 L786.5,836.8 L794.5,833.1 L802.5,830.6 L810.5,819.4 L818.5,816.5 L826.5,815.7 L834.5,823.4 L842.5,834.5 L850.5,830.5 L858.5,827.1 L866.5,818.6 L874.5,823.5 L882.5,823.5 L890.5,820.2 L898.5,823.1 L906.5,836.2 L914.5,832.7 L922.5,829.9 L930.5,841.7 L938.5,853.6 L946.5,841.9 L954.5,840.2 L962.5,831.1 L970.5,827.8 L978.5,825.3 L986.5,831.5 L994.5,842.6 L1002.5,839.0 L1010.5,841.8 L1018.5,828.3 L1026.5,823.5 L1034.5,822.2 L1042.5,834.0 L1050.5,832.7 L1058.5,824.0 L1066.5,819.9 L1074.5,817.3 L1082.5,835.6 L1090.5,835.9 L1098.5,831.0 L1106.5,825.7 L1114.5,824.7 L1122.5,828.7 L1130.5,826.7 L1138.5,816.6 L1146.5,818.2 L1154.5,814.0 L1162.5,831.3 L1170.5,831.5 L1178.5,834.5 L1186.5,823.0 L1194.5,827.1 L1202.5,820.6 L1210.5,821.1 L1218.5,821.6 L1226.5,824.2 L1234.5,818.2 L1242.5,818.6 L1250.5,809.2 L1258.5,805.8 L1266.5,807.3 L1274.5,807.4 L1282.5,807.3 L1290.5,810.7 L1298.5,799.1 L1306.5,795.4 L1314.5,795.1 L1322.5,800.4 L1330.5,804.5 L1338.5,801.4 L1346.5,802.3 L1354.5,794.8 L1362.5,791.7 L1370.5,784.9 L1378.5,780.8 L1386.5,795.1 L1394.5,789.6 L1402.5,788.3 L1410.5,787.0 L1418.5,794.4 L1426.5,788.2 L1434.5,782.8" fill="none" stroke="#1E90FF" stroke-width="1" shape-rendering="crispEdges"/><line x1="1307" y1="262" x2="1451" y2="51" stroke="#FF0000" stroke-width="3"/><polygon points="1457,43 1446,50 1455,56" fill="#FF0000"/><line x1="1225" y1="646" x2="1444" y2="596" stroke="#FF0000" stroke-width="3.5"/><polygon points="1455,593 1442,591 1444,600" fill="#FF0000"/><line x1="1175" y1="833" x2="1360" y2="781" stroke="#FF0000" stroke-width="3.5"/><polygon points="1369,779 1357,775 1359,785" fill="#FF0000"/><path d="M1368,779.5 H1400 L1401,781 H1428" fill="none" stroke="#FF0000" stroke-width="3.5"/><polygon points="1436,781 1426,776 1426,786" fill="#FF0000"/></g><g font-family="Liberation Sans, sans-serif"><text x="202.5" y="280.5" font-size="16" fill="#FF0000" text-anchor="middle" font-weight="normal" stroke="#FF0000" stroke-width="0.3">142.715</text><text x="346.5" y="560.5" font-size="16" fill="#FF0000" text-anchor="middle" font-weight="normal" stroke="#FF0000" stroke-width="0.3">133.049</text><text x="610.5" y="521.5" font-size="16" fill="#FF0000" text-anchor="middle" font-weight="normal" stroke="#FF0000" stroke-width="0.3">134.382</text><text x="690.5" y="352.5" font-size="16" fill="#FF0000" text-anchor="middle" font-weight="normal" stroke="#FF0000" stroke-width="0.3">140.248</text><text x="986.5" y="325.5" font-size="16" fill="#FF0000" text-anchor="middle" font-weight="normal" stroke="#FF0000" stroke-width="0.3">141.159</text><text x="962.5" y="447.5" font-size="16" fill="#FF0000" text-anchor="middle" font-weight="normal" stroke="#FF0000" stroke-width="0.3">136.933</text><text x="1354" y="91" font-size="22" fill="#FF0000" text-anchor="middle" font-weight="normal" textLength="70" lengthAdjust="spacingAndGlyphs" stroke="#FF0000" stroke-width="0.6">149.347</text><text x="1578.5" y="72" font-size="20" fill="#00FF00" text-anchor="middle" font-weight="normal" letter-spacing="2">多空转折点</text><text x="1690" y="52.5" font-size="9.9" fill="#000" stroke="#000" stroke-width="0.08" text-anchor="start" textLength="33.3" lengthAdjust="spacingAndGlyphs">150.560</text><text x="1690" y="150.3" font-size="9.9" fill="#000" stroke="#000" stroke-width="0.08" text-anchor="start" textLength="33.3" lengthAdjust="spacingAndGlyphs">147.140</text><text x="1690" y="183.2688" font-size="9.9" fill="#000" stroke="#000" stroke-width="0.08" text-anchor="start" textLength="33.3" lengthAdjust="spacingAndGlyphs">146.000</text><text x="1690" y="216.23760000000001" font-size="9.9" fill="#000" stroke="#000" stroke-width="0.08" text-anchor="start" textLength="33.3" lengthAdjust="spacingAndGlyphs">144.860</text><text x="1690" y="249.20640000000003" font-size="9.9" fill="#000" stroke="#000" stroke-width="0.08" text-anchor="start" textLength="33.3" lengthAdjust="spacingAndGlyphs">143.720</text><text x="1690" y="282.1752" font-size="9.9" fill="#000" stroke="#000" stroke-width="0.08" text-anchor="start" textLength="33.3" lengthAdjust="spacingAndGlyphs">142.580</text><text x="1690" y="315.144" font-size="9.9" fill="#000" stroke="#000" stroke-width="0.08" text-anchor="start" textLength="33.3" lengthAdjust="spacingAndGlyphs">141.440</text><text x="1690" y="348.1128" font-size="9.9" fill="#000" stroke="#000" stroke-width="0.08" text-anchor="start" textLength="33.3" lengthAdjust="spacingAndGlyphs">140.300</text><text x="1690" y="381.0816" font-size="9.9" fill="#000" stroke="#000" stroke-width="0.08" text-anchor="start" textLength="33.3" lengthAdjust="spacingAndGlyphs">139.160</text><text x="1690" y="414.0504" font-size="9.9" fill="#000" stroke="#000" stroke-width="0.08" text-anchor="start" textLength="33.3" lengthAdjust="spacingAndGlyphs">138.020</text><text x="1690" y="447.0192" font-size="9.9" fill="#000" stroke="#000" stroke-width="0.08" text-anchor="start" textLength="33.3" lengthAdjust="spacingAndGlyphs">136.880</text><text x="1690" y="479.988" font-size="9.9" fill="#000" stroke="#000" stroke-width="0.08" text-anchor="start" textLength="33.3" lengthAdjust="spacingAndGlyphs">135.740</text><text x="1690" y="512.9567999999999" font-size="9.9" fill="#000" stroke="#000" stroke-width="0.08" text-anchor="start" textLength="33.3" lengthAdjust="spacingAndGlyphs">134.600</text><text x="1690" y="545.9256" font-size="9.9" fill="#000" stroke="#000" stroke-width="0.08" text-anchor="start" textLength="33.3" lengthAdjust="spacingAndGlyphs">133.460</text><text x="1690" y="578.8944" font-size="9.9" fill="#000" stroke="#000" stroke-width="0.08" text-anchor="start" textLength="33.3" lengthAdjust="spacingAndGlyphs">132.320</text><rect x="1686" y="29" width="41" height="11" fill="#FF0000"/><text x="1690" y="37.8" font-size="9.9" fill="#FFF" stroke="#FFF" stroke-width="0.08" text-anchor="start" textLength="33.3" lengthAdjust="spacingAndGlyphs">150.969</text><rect x="1686" y="46" width="41" height="11" fill="#FF0000"/><text x="1690" y="54.8" font-size="9.9" fill="#FFF" stroke="#FFF" stroke-width="0.08" text-anchor="start" textLength="33.3" lengthAdjust="spacingAndGlyphs">150.403</text><rect x="1686" y="68" width="41" height="11" fill="#000000"/><text x="1690" y="76.8" font-size="9.9" fill="#FFF" stroke="#FFF" stroke-width="0.08" text-anchor="start" textLength="33.3" lengthAdjust="spacingAndGlyphs">149.673</text><rect x="1686" y="76" width="41" height="11" fill="#32CD32"/><text x="1690" y="84.8" font-size="9.9" fill="#FFF" stroke="#FFF" stroke-width="0.08" text-anchor="start" textLength="33.3" lengthAdjust="spacingAndGlyphs">149.347</text><rect x="1686" y="92" width="41" height="11" fill="#0000FF"/><text x="1690" y="100.8" font-size="9.9" fill="#FFF" stroke="#FFF" stroke-width="0.08" text-anchor="start" textLength="33.3" lengthAdjust="spacingAndGlyphs">148.795</text><rect x="1686" y="110" width="41" height="11" fill="#0000FF"/><text x="1690" y="118.8" font-size="9.9" fill="#FFF" stroke="#FFF" stroke-width="0.08" text-anchor="start" textLength="33.3" lengthAdjust="spacingAndGlyphs">148.174</text><text x="1690" y="591.5" font-size="9.9" fill="#000" stroke="#000" stroke-width="0.08" text-anchor="start" textLength="28.1" lengthAdjust="spacingAndGlyphs">1.7791</text><text x="1688.5" y="677" font-size="9.9" fill="#000" stroke="#000" stroke-width="0.08" text-anchor="start" textLength="17.9" lengthAdjust="spacingAndGlyphs">0.00</text><text x="1688" y="746.5" font-size="9.9" fill="#000" stroke="#000" stroke-width="0.08" text-anchor="start" textLength="31.2" lengthAdjust="spacingAndGlyphs">-1.4706</text><text x="1689" y="762.5" font-size="9.9" fill="#000" stroke="#000" stroke-width="0.08" text-anchor="start" textLength="15.3" lengthAdjust="spacingAndGlyphs">100</text><text x="1689" y="792" font-size="9.9" fill="#000" stroke="#000" stroke-width="0.08" text-anchor="start" textLength="10.2" lengthAdjust="spacingAndGlyphs">80</text><text x="1689" y="843" font-size="9.9" fill="#000" stroke="#000" stroke-width="0.08" text-anchor="start" textLength="10.2" lengthAdjust="spacingAndGlyphs">50</text><text x="1689" y="904" font-size="9.9" fill="#000" stroke="#000" stroke-width="0.08" text-anchor="start" textLength="10.2" lengthAdjust="spacingAndGlyphs">15</text><text x="1689" y="923" font-size="9.9" fill="#000" stroke="#000" stroke-width="0.08" text-anchor="start" textLength="5.1" lengthAdjust="spacingAndGlyphs">0</text><text x="0" y="593" font-size="9.9" fill="#000" stroke="#000" stroke-width="0.08" text-anchor="start" textLength="125.3" lengthAdjust="spacingAndGlyphs">MACD(12,26,9) 1.6314 1.3906</text><text x="-1" y="765.5" font-size="9.9" fill="#000" stroke="#000" stroke-width="0.08" text-anchor="start" textLength="67.5" lengthAdjust="spacingAndGlyphs">RSI(14) 83.0458</text><text x="10" y="37" font-size="10" fill="#000" text-anchor="start" font-weight="normal" textLength="209" lengthAdjust="spacingAndGlyphs" style="white-space:pre">GBPJPY-,Daily  148.649 150.042 148.625 149.673</text><text x="-8.2" y="938.7" font-size="9.9" fill="#000" stroke="#000" stroke-width="0.08" text-anchor="start" textLength="47.6" lengthAdjust="spacingAndGlyphs">27 Jul 2020</text><text x="57.3" y="938.7" font-size="9.9" fill="#000" stroke="#000" stroke-width="0.08" text-anchor="start" textLength="46.6" lengthAdjust="spacingAndGlyphs">5 Aug 2020</text><text x="121.3" y="938.7" font-size="9.9" fill="#000" stroke="#000" stroke-width="0.08" text-anchor="start" textLength="51.7" lengthAdjust="spacingAndGlyphs">14 Aug 2020</text><text x="185.3" y="938.7" font-size="9.9" fill="#000" stroke="#000" stroke-width="0.08" text-anchor="start" textLength="51.7" lengthAdjust="spacingAndGlyphs">24 Aug 2020</text><text x="249.3" y="938.7" font-size="9.9" fill="#000" stroke="#000" stroke-width="0.08" text-anchor="start" textLength="47.1" lengthAdjust="spacingAndGlyphs">2 Sep 2020</text><text x="313.3" y="938.7" font-size="9.9" fill="#000" stroke="#000" stroke-width="0.08" text-anchor="start" textLength="51.5" lengthAdjust="spacingAndGlyphs">11 Sep 2020</text><text x="377.3" y="938.7" font-size="9.9" fill="#000" stroke="#000" stroke-width="0.08" text-anchor="start" textLength="52.2" lengthAdjust="spacingAndGlyphs">21 Sep 2020</text><text x="441.3" y="938.7" font-size="9.9" fill="#000" stroke="#000" stroke-width="0.08" text-anchor="start" textLength="52.2" lengthAdjust="spacingAndGlyphs">30 Sep 2020</text><text x="505.3" y="938.7" font-size="9.9" fill="#000" stroke="#000" stroke-width="0.08" text-anchor="start" textLength="45.0" lengthAdjust="spacingAndGlyphs">9 Oct 2020</text><text x="569.3" y="938.7" font-size="9.9" fill="#000" stroke="#000" stroke-width="0.08" text-anchor="start" textLength="50.1" lengthAdjust="spacingAndGlyphs">19 Oct 2020</text><text x="633.3" y="938.7" font-size="9.9" fill="#000" stroke="#000" stroke-width="0.08" text-anchor="start" textLength="50.1" lengthAdjust="spacingAndGlyphs">28 Oct 2020</text><text x="697.3" y="938.7" font-size="9.9" fill="#000" stroke="#000" stroke-width="0.08" text-anchor="start" textLength="47.1" lengthAdjust="spacingAndGlyphs">6 Nov 2020</text><text x="761.3" y="938.7" font-size="9.9" fill="#000" stroke="#000" stroke-width="0.08" text-anchor="start" textLength="52.2" lengthAdjust="spacingAndGlyphs">16 Nov 2020</text><text x="825.3" y="938.7" font-size="9.9" fill="#000" stroke="#000" stroke-width="0.08" text-anchor="start" textLength="52.2" lengthAdjust="spacingAndGlyphs">25 Nov 2020</text><text x="889.3" y="938.7" font-size="9.9" fill="#000" stroke="#000" stroke-width="0.08" text-anchor="start" textLength="47.1" lengthAdjust="spacingAndGlyphs">4 Dec 2020</text><text x="953.3" y="938.7" font-size="9.9" fill="#000" stroke="#000" stroke-width="0.08" text-anchor="start" textLength="52.2" lengthAdjust="spacingAndGlyphs">14 Dec 2020</text><text x="1017.3" y="938.7" font-size="9.9" fill="#000" stroke="#000" stroke-width="0.08" text-anchor="start" textLength="52.2" lengthAdjust="spacingAndGlyphs">23 Dec 2020</text><text x="1081.3" y="938.7" font-size="9.9" fill="#000" stroke="#000" stroke-width="0.08" text-anchor="start" textLength="45.5" lengthAdjust="spacingAndGlyphs">4 Jan 2021</text><text x="1145.3" y="938.7" font-size="9.9" fill="#000" stroke="#000" stroke-width="0.08" text-anchor="start" textLength="50.6" lengthAdjust="spacingAndGlyphs">13 Jan 2021</text><text x="1209.3" y="938.7" font-size="9.9" fill="#000" stroke="#000" stroke-width="0.08" text-anchor="start" textLength="50.6" lengthAdjust="spacingAndGlyphs">22 Jan 2021</text><text x="1273.3" y="938.7" font-size="9.9" fill="#000" stroke="#000" stroke-width="0.08" text-anchor="start" textLength="46.5" lengthAdjust="spacingAndGlyphs">1 Feb 2021</text><text x="1337.3" y="938.7" font-size="9.9" fill="#000" stroke="#000" stroke-width="0.08" text-anchor="start" textLength="51.7" lengthAdjust="spacingAndGlyphs">10 Feb 2021</text><text x="1401.3" y="938.7" font-size="9.9" fill="#000" stroke="#000" stroke-width="0.08" text-anchor="start" textLength="51.7" lengthAdjust="spacingAndGlyphs">19 Feb 2021</text></g></svg>
<div id="rbar"></div>
<div id="panel"></div>
<div class="tab" style="left:0;width:49px">SELL</div>
<div class="tabline" style="left:1px;width:44px"></div>
<div class="tab" style="left:164px;width:52px">BUY</div>
<div class="tabline" style="left:168px;width:44px"></div>
<div class="big" style="left:0;width:106px">
 <span style="position:absolute;left:20px;top:21px;font-size:12px;font-weight:bold;line-height:12px">149</span>
 <span style="position:absolute;left:45px;top:1px;font-size:33px;line-height:36px;letter-spacing:-1px">67</span>
 <span style="position:absolute;left:84px;top:5px;font-size:12px;font-weight:bold;line-height:12px">3</span>
</div>
<div class="big" style="left:108px;width:108px">
 <span style="position:absolute;left:22px;top:21px;font-size:12px;font-weight:bold;line-height:12px">149</span>
 <span style="position:absolute;left:48px;top:1px;font-size:33px;line-height:36px;letter-spacing:-1px">71</span>
 <span style="position:absolute;left:87px;top:5px;font-size:12px;font-weight:bold;line-height:12px">7</span>
</div>
<div class="vol">
 <div class="vbtn" style="left:0;border-right:1px solid #A8ADB5"><svg width="18" height="15" style="position:absolute;left:0;top:0"><path d="M7 7 h6 l-3 3z" fill="#4A62C0"/></svg></div>
 <div style="position:absolute;right:24px;top:4px;font-size:12px;line-height:13px;color:#000">1.00</div>
 <div class="vbtn" style="right:0;border-left:1px solid #A8ADB5"><svg width="18" height="15" style="position:absolute;left:0;top:0"><path d="M6 10 h6 l-3 -3z" fill="#4A62C0"/></svg></div>
</div>
</body></html>
